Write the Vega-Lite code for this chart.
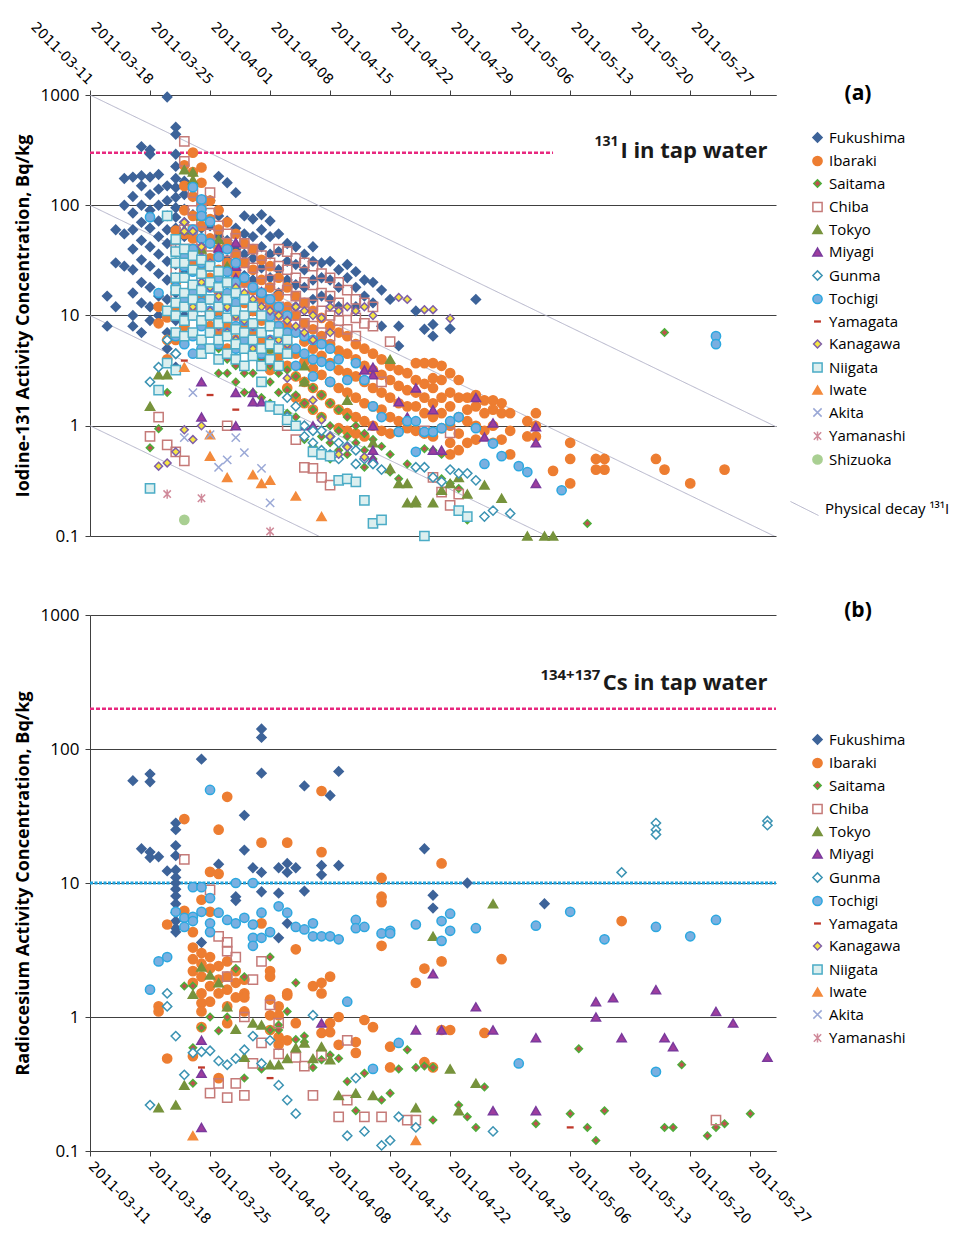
{
"$schema":"https://vega.github.io/schema/vega-lite/v6.json",
"background":"white",
"padding":{"left":14,"top":19,"right":0,"bottom":0},
"bounds":"flush",
"spacing":79,
"config":{"view":{"stroke":null},"font":"Open Sans"},
"datasets":{
"decay":[
{"id":"a","d":"2011-03-11","v":1000,"lab":"Physical decay ¹³¹I"},{"id":"a","d":"2011-05-30","v":0.98,"lab":"Physical decay ¹³¹I"},
{"id":"b","d":"2011-03-11","v":100,"lab":"Physical decay ¹³¹I"},{"id":"b","d":"2011-05-30","v":0.098,"lab":"Physical decay ¹³¹I"},
{"id":"c","d":"2011-03-11","v":10,"lab":"Physical decay ¹³¹I"},{"id":"c","d":"2011-05-06","v":0.079,"lab":"Physical decay ¹³¹I"},
{"id":"e","d":"2011-03-11","v":1,"lab":"Physical decay ¹³¹I"},{"id":"e","d":"2011-04-07","v":0.097,"lab":"Physical decay ¹³¹I"}
],
"top":[
{"p":"Fukushima","d":"2011-03-13","v":15},{"p":"Fukushima","d":"2011-03-13","v":8},
{"p":"Fukushima","d":"2011-03-14","v":60},{"p":"Fukushima","d":"2011-03-14","v":30},{"p":"Fukushima","d":"2011-03-14","v":12},
{"p":"Fukushima","d":"2011-03-15","v":175},{"p":"Fukushima","d":"2011-03-15","v":100},{"p":"Fukushima","d":"2011-03-15","v":55},{"p":"Fukushima","d":"2011-03-15","v":28},
{"p":"Fukushima","d":"2011-03-16","v":180},{"p":"Fukushima","d":"2011-03-16","v":120},{"p":"Fukushima","d":"2011-03-16","v":85},{"p":"Fukushima","d":"2011-03-16","v":60},{"p":"Fukushima","d":"2011-03-16","v":40},{"p":"Fukushima","d":"2011-03-16","v":26},{"p":"Fukushima","d":"2011-03-16","v":16},{"p":"Fukushima","d":"2011-03-16","v":10},{"p":"Fukushima","d":"2011-03-16","v":8},
{"p":"Fukushima","d":"2011-03-17","v":340},{"p":"Fukushima","d":"2011-03-17","v":185},{"p":"Fukushima","d":"2011-03-17","v":150},{"p":"Fukushima","d":"2011-03-17","v":100},{"p":"Fukushima","d":"2011-03-17","v":70},{"p":"Fukushima","d":"2011-03-17","v":48},{"p":"Fukushima","d":"2011-03-17","v":32},{"p":"Fukushima","d":"2011-03-17","v":20},{"p":"Fukushima","d":"2011-03-17","v":13},{"p":"Fukushima","d":"2011-03-17","v":7},
{"p":"Fukushima","d":"2011-03-18","v":318},{"p":"Fukushima","d":"2011-03-18","v":290},{"p":"Fukushima","d":"2011-03-18","v":180},{"p":"Fukushima","d":"2011-03-18","v":125},{"p":"Fukushima","d":"2011-03-18","v":90},{"p":"Fukushima","d":"2011-03-18","v":62},{"p":"Fukushima","d":"2011-03-18","v":42},{"p":"Fukushima","d":"2011-03-18","v":28},{"p":"Fukushima","d":"2011-03-18","v":18},{"p":"Fukushima","d":"2011-03-18","v":12},{"p":"Fukushima","d":"2011-03-18","v":9},
{"p":"Fukushima","d":"2011-03-19","v":190},{"p":"Fukushima","d":"2011-03-19","v":140},{"p":"Fukushima","d":"2011-03-19","v":100},{"p":"Fukushima","d":"2011-03-19","v":72},{"p":"Fukushima","d":"2011-03-19","v":52},{"p":"Fukushima","d":"2011-03-19","v":36},{"p":"Fukushima","d":"2011-03-19","v":24},{"p":"Fukushima","d":"2011-03-19","v":15},{"p":"Fukushima","d":"2011-03-19","v":10},
{"p":"Fukushima","d":"2011-03-20","v":960},{"p":"Fukushima","d":"2011-03-20","v":150},{"p":"Fukushima","d":"2011-03-20","v":110},{"p":"Fukushima","d":"2011-03-20","v":80},{"p":"Fukushima","d":"2011-03-20","v":60},{"p":"Fukushima","d":"2011-03-20","v":45},{"p":"Fukushima","d":"2011-03-20","v":31},{"p":"Fukushima","d":"2011-03-20","v":21},{"p":"Fukushima","d":"2011-03-20","v":14},{"p":"Fukushima","d":"2011-03-20","v":10},{"p":"Fukushima","d":"2011-03-20","v":7},{"p":"Fukushima","d":"2011-03-20","v":5},
{"p":"Fukushima","d":"2011-03-21","v":510},{"p":"Fukushima","d":"2011-03-21","v":440},{"p":"Fukushima","d":"2011-03-21","v":290},{"p":"Fukushima","d":"2011-03-21","v":225},{"p":"Fukushima","d":"2011-03-21","v":175},{"p":"Fukushima","d":"2011-03-21","v":145},{"p":"Fukushima","d":"2011-03-21","v":118},{"p":"Fukushima","d":"2011-03-21","v":95},{"p":"Fukushima","d":"2011-03-21","v":78},{"p":"Fukushima","d":"2011-03-21","v":62},{"p":"Fukushima","d":"2011-03-21","v":48},{"p":"Fukushima","d":"2011-03-21","v":38},{"p":"Fukushima","d":"2011-03-21","v":29},{"p":"Fukushima","d":"2011-03-21","v":22},{"p":"Fukushima","d":"2011-03-21","v":16},{"p":"Fukushima","d":"2011-03-21","v":12},{"p":"Fukushima","d":"2011-03-21","v":9},{"p":"Fukushima","d":"2011-03-21","v":6.5},{"p":"Fukushima","d":"2011-03-21","v":4.5},{"p":"Fukushima","d":"2011-03-21","v":3.4},
{"p":"Fukushima","d":"2011-03-22","v":165},{"p":"Fukushima","d":"2011-03-22","v":125},{"p":"Fukushima","d":"2011-03-22","v":92},{"p":"Fukushima","d":"2011-03-22","v":70},{"p":"Fukushima","d":"2011-03-22","v":52},{"p":"Fukushima","d":"2011-03-22","v":36},{"p":"Fukushima","d":"2011-03-22","v":24},{"p":"Fukushima","d":"2011-03-22","v":15},{"p":"Fukushima","d":"2011-03-22","v":10},
{"p":"Fukushima","d":"2011-03-23","v":120},{"p":"Fukushima","d":"2011-03-23","v":82},{"p":"Fukushima","d":"2011-03-23","v":58},{"p":"Fukushima","d":"2011-03-23","v":40},{"p":"Fukushima","d":"2011-03-23","v":27},{"p":"Fukushima","d":"2011-03-23","v":17},
{"p":"Fukushima","d":"2011-03-24","v":85},{"p":"Fukushima","d":"2011-03-24","v":62},{"p":"Fukushima","d":"2011-03-24","v":42},{"p":"Fukushima","d":"2011-03-24","v":28},{"p":"Fukushima","d":"2011-03-24","v":18},{"p":"Fukushima","d":"2011-03-24","v":12},
{"p":"Fukushima","d":"2011-03-25","v":110},{"p":"Fukushima","d":"2011-03-25","v":65},{"p":"Fukushima","d":"2011-03-25","v":45},{"p":"Fukushima","d":"2011-03-25","v":30},{"p":"Fukushima","d":"2011-03-25","v":20},
{"p":"Fukushima","d":"2011-03-26","v":183},{"p":"Fukushima","d":"2011-03-26","v":80},{"p":"Fukushima","d":"2011-03-26","v":52},{"p":"Fukushima","d":"2011-03-26","v":36},{"p":"Fukushima","d":"2011-03-26","v":22},
{"p":"Fukushima","d":"2011-03-27","v":160},{"p":"Fukushima","d":"2011-03-27","v":72},{"p":"Fukushima","d":"2011-03-27","v":48},{"p":"Fukushima","d":"2011-03-27","v":32},{"p":"Fukushima","d":"2011-03-27","v":21},{"p":"Fukushima","d":"2011-03-27","v":13},
{"p":"Fukushima","d":"2011-03-28","v":130},{"p":"Fukushima","d":"2011-03-28","v":62},{"p":"Fukushima","d":"2011-03-28","v":40},{"p":"Fukushima","d":"2011-03-28","v":26},{"p":"Fukushima","d":"2011-03-28","v":16},
{"p":"Fukushima","d":"2011-03-29","v":80},{"p":"Fukushima","d":"2011-03-29","v":55},{"p":"Fukushima","d":"2011-03-29","v":36},{"p":"Fukushima","d":"2011-03-29","v":23},
{"p":"Fukushima","d":"2011-03-30","v":75},{"p":"Fukushima","d":"2011-03-30","v":52},{"p":"Fukushima","d":"2011-03-30","v":33},{"p":"Fukushima","d":"2011-03-30","v":21},{"p":"Fukushima","d":"2011-03-30","v":11},
{"p":"Fukushima","d":"2011-03-31","v":82},{"p":"Fukushima","d":"2011-03-31","v":60},{"p":"Fukushima","d":"2011-03-31","v":42},{"p":"Fukushima","d":"2011-03-31","v":27},{"p":"Fukushima","d":"2011-03-31","v":16},
{"p":"Fukushima","d":"2011-04-01","v":72},{"p":"Fukushima","d":"2011-04-01","v":52},{"p":"Fukushima","d":"2011-04-01","v":36},{"p":"Fukushima","d":"2011-04-01","v":22},{"p":"Fukushima","d":"2011-04-01","v":13},
{"p":"Fukushima","d":"2011-04-02","v":55},{"p":"Fukushima","d":"2011-04-02","v":38},{"p":"Fukushima","d":"2011-04-02","v":26},{"p":"Fukushima","d":"2011-04-02","v":16},
{"p":"Fukushima","d":"2011-04-03","v":45},{"p":"Fukushima","d":"2011-04-03","v":31},{"p":"Fukushima","d":"2011-04-03","v":21},
{"p":"Fukushima","d":"2011-04-04","v":42},{"p":"Fukushima","d":"2011-04-04","v":29},{"p":"Fukushima","d":"2011-04-04","v":19},{"p":"Fukushima","d":"2011-04-04","v":12},
{"p":"Fukushima","d":"2011-04-05","v":36},{"p":"Fukushima","d":"2011-04-05","v":26},{"p":"Fukushima","d":"2011-04-05","v":18},
{"p":"Fukushima","d":"2011-04-06","v":42},{"p":"Fukushima","d":"2011-04-06","v":31},{"p":"Fukushima","d":"2011-04-06","v":21},{"p":"Fukushima","d":"2011-04-06","v":14},
{"p":"Fukushima","d":"2011-04-07","v":30},{"p":"Fukushima","d":"2011-04-07","v":22},{"p":"Fukushima","d":"2011-04-07","v":15},
{"p":"Fukushima","d":"2011-04-08","v":31},{"p":"Fukushima","d":"2011-04-08","v":21},{"p":"Fukushima","d":"2011-04-08","v":14},
{"p":"Fukushima","d":"2011-04-09","v":26},{"p":"Fukushima","d":"2011-04-09","v":18},{"p":"Fukushima","d":"2011-04-09","v":12},
{"p":"Fukushima","d":"2011-04-10","v":29},{"p":"Fukushima","d":"2011-04-10","v":22},
{"p":"Fukushima","d":"2011-04-11","v":25},{"p":"Fukushima","d":"2011-04-11","v":18},{"p":"Fukushima","d":"2011-04-11","v":12},
{"p":"Fukushima","d":"2011-04-12","v":21},{"p":"Fukushima","d":"2011-04-12","v":15},
{"p":"Fukushima","d":"2011-04-13","v":20},{"p":"Fukushima","d":"2011-04-13","v":13},
{"p":"Fukushima","d":"2011-04-14","v":17},{"p":"Fukushima","d":"2011-04-14","v":8},
{"p":"Fukushima","d":"2011-04-15","v":14},{"p":"Fukushima","d":"2011-04-16","v":8},{"p":"Fukushima","d":"2011-04-16","v":5.3},{"p":"Fukushima","d":"2011-04-18","v":11},{"p":"Fukushima","d":"2011-04-19","v":7.5},{"p":"Fukushima","d":"2011-04-20","v":8.3},{"p":"Fukushima","d":"2011-04-20","v":6.5},{"p":"Fukushima","d":"2011-04-22","v":7.6},{"p":"Fukushima","d":"2011-04-25","v":14},

{"p":"Ibaraki","d":"2011-03-19","v":12},{"p":"Ibaraki","d":"2011-03-19","v":8.5},
{"p":"Ibaraki","d":"2011-03-20","v":9.6},{"p":"Ibaraki","d":"2011-03-20","v":6},{"p":"Ibaraki","d":"2011-03-20","v":4},
{"p":"Ibaraki","d":"2011-03-21","v":59},{"p":"Ibaraki","d":"2011-03-21","v":30},{"p":"Ibaraki","d":"2011-03-21","v":20},{"p":"Ibaraki","d":"2011-03-21","v":12},{"p":"Ibaraki","d":"2011-03-21","v":6},
{"p":"Ibaraki","d":"2011-03-22","v":230},{"p":"Ibaraki","d":"2011-03-22","v":150},{"p":"Ibaraki","d":"2011-03-22","v":90},{"p":"Ibaraki","d":"2011-03-22","v":55},{"p":"Ibaraki","d":"2011-03-22","v":35},{"p":"Ibaraki","d":"2011-03-22","v":22},{"p":"Ibaraki","d":"2011-03-22","v":14},{"p":"Ibaraki","d":"2011-03-22","v":8},
{"p":"Ibaraki","d":"2011-03-23","v":300},{"p":"Ibaraki","d":"2011-03-23","v":200},{"p":"Ibaraki","d":"2011-03-23","v":120},{"p":"Ibaraki","d":"2011-03-23","v":80},{"p":"Ibaraki","d":"2011-03-23","v":50},{"p":"Ibaraki","d":"2011-03-23","v":30},{"p":"Ibaraki","d":"2011-03-23","v":18},{"p":"Ibaraki","d":"2011-03-23","v":11},
{"p":"Ibaraki","d":"2011-03-24","v":220},{"p":"Ibaraki","d":"2011-03-24","v":160},{"p":"Ibaraki","d":"2011-03-24","v":100},{"p":"Ibaraki","d":"2011-03-24","v":65},{"p":"Ibaraki","d":"2011-03-24","v":40},{"p":"Ibaraki","d":"2011-03-24","v":25},{"p":"Ibaraki","d":"2011-03-24","v":15},{"p":"Ibaraki","d":"2011-03-24","v":9},
{"p":"Ibaraki","d":"2011-03-25","v":110},{"p":"Ibaraki","d":"2011-03-25","v":75},{"p":"Ibaraki","d":"2011-03-25","v":50},{"p":"Ibaraki","d":"2011-03-25","v":33},{"p":"Ibaraki","d":"2011-03-25","v":22},{"p":"Ibaraki","d":"2011-03-25","v":14},{"p":"Ibaraki","d":"2011-03-25","v":8},
{"p":"Ibaraki","d":"2011-03-26","v":90},{"p":"Ibaraki","d":"2011-03-26","v":60},{"p":"Ibaraki","d":"2011-03-26","v":40},{"p":"Ibaraki","d":"2011-03-26","v":26},{"p":"Ibaraki","d":"2011-03-26","v":17},{"p":"Ibaraki","d":"2011-03-26","v":11},{"p":"Ibaraki","d":"2011-03-26","v":7},
{"p":"Ibaraki","d":"2011-03-27","v":70},{"p":"Ibaraki","d":"2011-03-27","v":45},{"p":"Ibaraki","d":"2011-03-27","v":30},{"p":"Ibaraki","d":"2011-03-27","v":20},{"p":"Ibaraki","d":"2011-03-27","v":13},{"p":"Ibaraki","d":"2011-03-27","v":8},{"p":"Ibaraki","d":"2011-03-27","v":5},
{"p":"Ibaraki","d":"2011-03-28","v":55},{"p":"Ibaraki","d":"2011-03-28","v":36},{"p":"Ibaraki","d":"2011-03-28","v":24},{"p":"Ibaraki","d":"2011-03-28","v":16},{"p":"Ibaraki","d":"2011-03-28","v":10},{"p":"Ibaraki","d":"2011-03-28","v":6},
{"p":"Ibaraki","d":"2011-03-29","v":45},{"p":"Ibaraki","d":"2011-03-29","v":30},{"p":"Ibaraki","d":"2011-03-29","v":20},{"p":"Ibaraki","d":"2011-03-29","v":13},{"p":"Ibaraki","d":"2011-03-29","v":8},{"p":"Ibaraki","d":"2011-03-29","v":5},
{"p":"Ibaraki","d":"2011-03-30","v":40},{"p":"Ibaraki","d":"2011-03-30","v":26},{"p":"Ibaraki","d":"2011-03-30","v":17},{"p":"Ibaraki","d":"2011-03-30","v":11},{"p":"Ibaraki","d":"2011-03-30","v":7},{"p":"Ibaraki","d":"2011-03-30","v":4.5},
{"p":"Ibaraki","d":"2011-03-31","v":32},{"p":"Ibaraki","d":"2011-03-31","v":21},{"p":"Ibaraki","d":"2011-03-31","v":14},{"p":"Ibaraki","d":"2011-03-31","v":9},{"p":"Ibaraki","d":"2011-03-31","v":6},{"p":"Ibaraki","d":"2011-03-31","v":3.8},
{"p":"Ibaraki","d":"2011-04-01","v":28},{"p":"Ibaraki","d":"2011-04-01","v":18},{"p":"Ibaraki","d":"2011-04-01","v":12},{"p":"Ibaraki","d":"2011-04-01","v":8},{"p":"Ibaraki","d":"2011-04-01","v":5},{"p":"Ibaraki","d":"2011-04-01","v":3.2},
{"p":"Ibaraki","d":"2011-04-02","v":22},{"p":"Ibaraki","d":"2011-04-02","v":15},{"p":"Ibaraki","d":"2011-04-02","v":10},{"p":"Ibaraki","d":"2011-04-02","v":6.5},{"p":"Ibaraki","d":"2011-04-02","v":4.2},
{"p":"Ibaraki","d":"2011-04-03","v":18},{"p":"Ibaraki","d":"2011-04-03","v":12},{"p":"Ibaraki","d":"2011-04-03","v":8},{"p":"Ibaraki","d":"2011-04-03","v":5.5},{"p":"Ibaraki","d":"2011-04-03","v":3.5},{"p":"Ibaraki","d":"2011-04-03","v":2.2},
{"p":"Ibaraki","d":"2011-04-04","v":15},{"p":"Ibaraki","d":"2011-04-04","v":10},{"p":"Ibaraki","d":"2011-04-04","v":7},{"p":"Ibaraki","d":"2011-04-04","v":4.5},{"p":"Ibaraki","d":"2011-04-04","v":2.8},{"p":"Ibaraki","d":"2011-04-04","v":1.8},
{"p":"Ibaraki","d":"2011-04-05","v":13},{"p":"Ibaraki","d":"2011-04-05","v":8.5},{"p":"Ibaraki","d":"2011-04-05","v":5.8},{"p":"Ibaraki","d":"2011-04-05","v":3.8},{"p":"Ibaraki","d":"2011-04-05","v":2.5},{"p":"Ibaraki","d":"2011-04-05","v":1.6},
{"p":"Ibaraki","d":"2011-04-06","v":11},{"p":"Ibaraki","d":"2011-04-06","v":7.5},{"p":"Ibaraki","d":"2011-04-06","v":5},{"p":"Ibaraki","d":"2011-04-06","v":3.3},{"p":"Ibaraki","d":"2011-04-06","v":2.2},{"p":"Ibaraki","d":"2011-04-06","v":1.4},
{"p":"Ibaraki","d":"2011-04-07","v":9.5},{"p":"Ibaraki","d":"2011-04-07","v":6.5},{"p":"Ibaraki","d":"2011-04-07","v":4.3},{"p":"Ibaraki","d":"2011-04-07","v":2.9},{"p":"Ibaraki","d":"2011-04-07","v":1.9},{"p":"Ibaraki","d":"2011-04-07","v":1.2},
{"p":"Ibaraki","d":"2011-04-08","v":8},{"p":"Ibaraki","d":"2011-04-08","v":5.5},{"p":"Ibaraki","d":"2011-04-08","v":3.7},{"p":"Ibaraki","d":"2011-04-08","v":2.5},{"p":"Ibaraki","d":"2011-04-08","v":1.6},
{"p":"Ibaraki","d":"2011-04-09","v":7},{"p":"Ibaraki","d":"2011-04-09","v":4.8},{"p":"Ibaraki","d":"2011-04-09","v":3.2},{"p":"Ibaraki","d":"2011-04-09","v":2.2},{"p":"Ibaraki","d":"2011-04-09","v":1.4},{"p":"Ibaraki","d":"2011-04-09","v":0.95},
{"p":"Ibaraki","d":"2011-04-10","v":6.5},{"p":"Ibaraki","d":"2011-04-10","v":4.5},{"p":"Ibaraki","d":"2011-04-10","v":3},{"p":"Ibaraki","d":"2011-04-10","v":2},{"p":"Ibaraki","d":"2011-04-10","v":1.3},{"p":"Ibaraki","d":"2011-04-10","v":0.9},
{"p":"Ibaraki","d":"2011-04-11","v":5.5},{"p":"Ibaraki","d":"2011-04-11","v":4},{"p":"Ibaraki","d":"2011-04-11","v":2.8},{"p":"Ibaraki","d":"2011-04-11","v":1.8},{"p":"Ibaraki","d":"2011-04-11","v":1.2},{"p":"Ibaraki","d":"2011-04-11","v":0.85},
{"p":"Ibaraki","d":"2011-04-12","v":5},{"p":"Ibaraki","d":"2011-04-12","v":3.5},{"p":"Ibaraki","d":"2011-04-12","v":2.5},{"p":"Ibaraki","d":"2011-04-12","v":1.6},{"p":"Ibaraki","d":"2011-04-12","v":1.1},{"p":"Ibaraki","d":"2011-04-12","v":0.8},
{"p":"Ibaraki","d":"2011-04-13","v":4.5},{"p":"Ibaraki","d":"2011-04-13","v":3.2},{"p":"Ibaraki","d":"2011-04-13","v":2.2},{"p":"Ibaraki","d":"2011-04-13","v":1.5},{"p":"Ibaraki","d":"2011-04-13","v":1.0},
{"p":"Ibaraki","d":"2011-04-14","v":4},{"p":"Ibaraki","d":"2011-04-14","v":2.9},{"p":"Ibaraki","d":"2011-04-14","v":2},{"p":"Ibaraki","d":"2011-04-14","v":1.4},{"p":"Ibaraki","d":"2011-04-14","v":0.9},
{"p":"Ibaraki","d":"2011-04-15","v":3.5},{"p":"Ibaraki","d":"2011-04-15","v":2.6},{"p":"Ibaraki","d":"2011-04-15","v":1.8},{"p":"Ibaraki","d":"2011-04-15","v":1.2},{"p":"Ibaraki","d":"2011-04-15","v":0.85},
{"p":"Ibaraki","d":"2011-04-16","v":3.2},{"p":"Ibaraki","d":"2011-04-16","v":2.3},{"p":"Ibaraki","d":"2011-04-16","v":1.6},{"p":"Ibaraki","d":"2011-04-16","v":1.1},
{"p":"Ibaraki","d":"2011-04-17","v":3.0},{"p":"Ibaraki","d":"2011-04-17","v":2.1},{"p":"Ibaraki","d":"2011-04-17","v":1.5},{"p":"Ibaraki","d":"2011-04-17","v":0.95},
{"p":"Ibaraki","d":"2011-04-18","v":3.7},{"p":"Ibaraki","d":"2011-04-18","v":2.6},{"p":"Ibaraki","d":"2011-04-18","v":2.0},{"p":"Ibaraki","d":"2011-04-18","v":1.5},{"p":"Ibaraki","d":"2011-04-18","v":0.9},
{"p":"Ibaraki","d":"2011-04-19","v":3.7},{"p":"Ibaraki","d":"2011-04-19","v":2.4},{"p":"Ibaraki","d":"2011-04-19","v":1.8},{"p":"Ibaraki","d":"2011-04-19","v":1.3},{"p":"Ibaraki","d":"2011-04-19","v":0.85},
{"p":"Ibaraki","d":"2011-04-20","v":3.7},{"p":"Ibaraki","d":"2011-04-20","v":2.7},{"p":"Ibaraki","d":"2011-04-20","v":2.2},{"p":"Ibaraki","d":"2011-04-20","v":1.6},{"p":"Ibaraki","d":"2011-04-20","v":1.2},{"p":"Ibaraki","d":"2011-04-20","v":0.8},
{"p":"Ibaraki","d":"2011-04-21","v":3.5},{"p":"Ibaraki","d":"2011-04-21","v":2.6},{"p":"Ibaraki","d":"2011-04-21","v":1.8},{"p":"Ibaraki","d":"2011-04-21","v":1.3},{"p":"Ibaraki","d":"2011-04-21","v":0.95},
{"p":"Ibaraki","d":"2011-04-22","v":3.0},{"p":"Ibaraki","d":"2011-04-22","v":2.0},{"p":"Ibaraki","d":"2011-04-22","v":1.5},{"p":"Ibaraki","d":"2011-04-22","v":1.0},{"p":"Ibaraki","d":"2011-04-22","v":0.7},{"p":"Ibaraki","d":"2011-04-22","v":0.55},
{"p":"Ibaraki","d":"2011-04-23","v":2.6},{"p":"Ibaraki","d":"2011-04-23","v":1.8},{"p":"Ibaraki","d":"2011-04-23","v":1.2},{"p":"Ibaraki","d":"2011-04-23","v":0.85},{"p":"Ibaraki","d":"2011-04-23","v":0.6},
{"p":"Ibaraki","d":"2011-04-24","v":1.8},{"p":"Ibaraki","d":"2011-04-24","v":1.4},{"p":"Ibaraki","d":"2011-04-24","v":1.1},{"p":"Ibaraki","d":"2011-04-24","v":0.7},
{"p":"Ibaraki","d":"2011-04-25","v":1.9},{"p":"Ibaraki","d":"2011-04-25","v":1.5},{"p":"Ibaraki","d":"2011-04-25","v":1.0},{"p":"Ibaraki","d":"2011-04-25","v":0.75},
{"p":"Ibaraki","d":"2011-04-26","v":1.7},{"p":"Ibaraki","d":"2011-04-26","v":1.3},{"p":"Ibaraki","d":"2011-04-26","v":0.9},
{"p":"Ibaraki","d":"2011-04-27","v":1.7},{"p":"Ibaraki","d":"2011-04-27","v":1.4},{"p":"Ibaraki","d":"2011-04-27","v":1.0},{"p":"Ibaraki","d":"2011-04-27","v":0.7},
{"p":"Ibaraki","d":"2011-04-28","v":1.6},{"p":"Ibaraki","d":"2011-04-28","v":1.3},{"p":"Ibaraki","d":"2011-04-28","v":0.75},
{"p":"Ibaraki","d":"2011-04-29","v":1.3},{"p":"Ibaraki","d":"2011-04-29","v":0.9},{"p":"Ibaraki","d":"2011-04-29","v":0.55},
{"p":"Ibaraki","d":"2011-05-01","v":1.1},{"p":"Ibaraki","d":"2011-05-01","v":0.8},
{"p":"Ibaraki","d":"2011-05-02","v":1.3},{"p":"Ibaraki","d":"2011-05-02","v":1.0},{"p":"Ibaraki","d":"2011-05-02","v":0.8},
{"p":"Ibaraki","d":"2011-05-04","v":0.39},{"p":"Ibaraki","d":"2011-05-06","v":0.7},{"p":"Ibaraki","d":"2011-05-06","v":0.5},{"p":"Ibaraki","d":"2011-05-06","v":0.3},
{"p":"Ibaraki","d":"2011-05-09","v":0.5},{"p":"Ibaraki","d":"2011-05-09","v":0.4},{"p":"Ibaraki","d":"2011-05-10","v":0.5},{"p":"Ibaraki","d":"2011-05-10","v":0.4},
{"p":"Ibaraki","d":"2011-05-16","v":0.5},{"p":"Ibaraki","d":"2011-05-17","v":0.4},{"p":"Ibaraki","d":"2011-05-20","v":0.3},{"p":"Ibaraki","d":"2011-05-24","v":0.4},

{"p":"Saitama","d":"2011-03-18","v":0.63},{"p":"Saitama","d":"2011-03-19","v":0.94},{"p":"Saitama","d":"2011-03-20","v":2.0},
{"p":"Saitama","d":"2011-03-26","v":5},{"p":"Saitama","d":"2011-03-26","v":3},{"p":"Saitama","d":"2011-03-27","v":4},{"p":"Saitama","d":"2011-03-27","v":3},
{"p":"Saitama","d":"2011-03-28","v":6},{"p":"Saitama","d":"2011-03-28","v":3.5},{"p":"Saitama","d":"2011-03-28","v":2.5},
{"p":"Saitama","d":"2011-03-29","v":5},{"p":"Saitama","d":"2011-03-29","v":3},{"p":"Saitama","d":"2011-03-29","v":2},
{"p":"Saitama","d":"2011-03-30","v":4.5},{"p":"Saitama","d":"2011-03-30","v":3},{"p":"Saitama","d":"2011-03-30","v":2},
{"p":"Saitama","d":"2011-03-31","v":4},{"p":"Saitama","d":"2011-03-31","v":2.5},{"p":"Saitama","d":"2011-03-31","v":1.8},
{"p":"Saitama","d":"2011-04-01","v":3.5},{"p":"Saitama","d":"2011-04-01","v":2.5},{"p":"Saitama","d":"2011-04-01","v":1.6},
{"p":"Saitama","d":"2011-04-02","v":3},{"p":"Saitama","d":"2011-04-02","v":2},{"p":"Saitama","d":"2011-04-02","v":1.4},
{"p":"Saitama","d":"2011-04-03","v":3.2},{"p":"Saitama","d":"2011-04-03","v":2.1},{"p":"Saitama","d":"2011-04-03","v":1.3},
{"p":"Saitama","d":"2011-04-04","v":2.8},{"p":"Saitama","d":"2011-04-04","v":1.9},{"p":"Saitama","d":"2011-04-04","v":1.2},
{"p":"Saitama","d":"2011-04-05","v":2.5},{"p":"Saitama","d":"2011-04-05","v":1.6},{"p":"Saitama","d":"2011-04-05","v":1.0},{"p":"Saitama","d":"2011-04-05","v":0.75},
{"p":"Saitama","d":"2011-04-06","v":2.2},{"p":"Saitama","d":"2011-04-06","v":1.4},{"p":"Saitama","d":"2011-04-06","v":0.9},{"p":"Saitama","d":"2011-04-06","v":0.65},
{"p":"Saitama","d":"2011-04-07","v":1.9},{"p":"Saitama","d":"2011-04-07","v":1.2},{"p":"Saitama","d":"2011-04-07","v":0.8},{"p":"Saitama","d":"2011-04-07","v":0.58},
{"p":"Saitama","d":"2011-04-08","v":1.6},{"p":"Saitama","d":"2011-04-08","v":1.0},{"p":"Saitama","d":"2011-04-08","v":0.7},{"p":"Saitama","d":"2011-04-08","v":0.5},
{"p":"Saitama","d":"2011-04-09","v":1.4},{"p":"Saitama","d":"2011-04-09","v":0.9},{"p":"Saitama","d":"2011-04-09","v":0.6},
{"p":"Saitama","d":"2011-04-10","v":1.2},{"p":"Saitama","d":"2011-04-10","v":0.8},{"p":"Saitama","d":"2011-04-10","v":0.55},
{"p":"Saitama","d":"2011-04-11","v":1.0},{"p":"Saitama","d":"2011-04-11","v":0.7},{"p":"Saitama","d":"2011-04-11","v":0.45},
{"p":"Saitama","d":"2011-04-12","v":0.85},{"p":"Saitama","d":"2011-04-12","v":0.6},{"p":"Saitama","d":"2011-04-12","v":0.42},
{"p":"Saitama","d":"2011-04-13","v":0.75},{"p":"Saitama","d":"2011-04-13","v":0.5},{"p":"Saitama","d":"2011-04-14","v":0.65},{"p":"Saitama","d":"2011-04-14","v":0.4},
{"p":"Saitama","d":"2011-04-15","v":0.55},{"p":"Saitama","d":"2011-04-15","v":0.38},{"p":"Saitama","d":"2011-04-16","v":0.33},{"p":"Saitama","d":"2011-04-17","v":0.45},
{"p":"Saitama","d":"2011-04-19","v":0.62},{"p":"Saitama","d":"2011-04-20","v":0.6},{"p":"Saitama","d":"2011-04-21","v":0.55},{"p":"Saitama","d":"2011-04-21","v":0.33},
{"p":"Saitama","d":"2011-04-22","v":0.3},{"p":"Saitama","d":"2011-04-23","v":0.27},{"p":"Saitama","d":"2011-04-24","v":0.14},{"p":"Saitama","d":"2011-05-08","v":0.13},{"p":"Saitama","d":"2011-05-17","v":7},

{"p":"Chiba","d":"2011-03-18","v":0.8},{"p":"Chiba","d":"2011-03-19","v":1.2},{"p":"Chiba","d":"2011-03-20","v":0.67},
{"p":"Chiba","d":"2011-03-21","v":40},{"p":"Chiba","d":"2011-03-21","v":25},{"p":"Chiba","d":"2011-03-21","v":15},{"p":"Chiba","d":"2011-03-21","v":0.58},
{"p":"Chiba","d":"2011-03-22","v":380},{"p":"Chiba","d":"2011-03-22","v":250},{"p":"Chiba","d":"2011-03-22","v":60},{"p":"Chiba","d":"2011-03-22","v":40},{"p":"Chiba","d":"2011-03-22","v":25},{"p":"Chiba","d":"2011-03-22","v":15},{"p":"Chiba","d":"2011-03-22","v":9},{"p":"Chiba","d":"2011-03-22","v":0.48},
{"p":"Chiba","d":"2011-03-23","v":130},{"p":"Chiba","d":"2011-03-23","v":90},{"p":"Chiba","d":"2011-03-23","v":60},{"p":"Chiba","d":"2011-03-23","v":40},{"p":"Chiba","d":"2011-03-23","v":28},{"p":"Chiba","d":"2011-03-23","v":18},{"p":"Chiba","d":"2011-03-23","v":12},
{"p":"Chiba","d":"2011-03-24","v":110},{"p":"Chiba","d":"2011-03-24","v":70},{"p":"Chiba","d":"2011-03-24","v":45},{"p":"Chiba","d":"2011-03-24","v":30},{"p":"Chiba","d":"2011-03-24","v":20},{"p":"Chiba","d":"2011-03-24","v":13},
{"p":"Chiba","d":"2011-03-25","v":130},{"p":"Chiba","d":"2011-03-25","v":85},{"p":"Chiba","d":"2011-03-25","v":55},{"p":"Chiba","d":"2011-03-25","v":35},{"p":"Chiba","d":"2011-03-25","v":23},{"p":"Chiba","d":"2011-03-25","v":15},{"p":"Chiba","d":"2011-03-25","v":10},
{"p":"Chiba","d":"2011-03-26","v":65},{"p":"Chiba","d":"2011-03-26","v":45},{"p":"Chiba","d":"2011-03-26","v":30},{"p":"Chiba","d":"2011-03-26","v":20},{"p":"Chiba","d":"2011-03-26","v":13},{"p":"Chiba","d":"2011-03-26","v":8},
{"p":"Chiba","d":"2011-03-27","v":55},{"p":"Chiba","d":"2011-03-27","v":38},{"p":"Chiba","d":"2011-03-27","v":26},{"p":"Chiba","d":"2011-03-27","v":17},{"p":"Chiba","d":"2011-03-27","v":11},{"p":"Chiba","d":"2011-03-27","v":1.0},
{"p":"Chiba","d":"2011-03-28","v":50},{"p":"Chiba","d":"2011-03-28","v":35},{"p":"Chiba","d":"2011-03-28","v":24},{"p":"Chiba","d":"2011-03-28","v":16},{"p":"Chiba","d":"2011-03-28","v":10},
{"p":"Chiba","d":"2011-03-29","v":45},{"p":"Chiba","d":"2011-03-29","v":30},{"p":"Chiba","d":"2011-03-29","v":20},{"p":"Chiba","d":"2011-03-29","v":14},{"p":"Chiba","d":"2011-03-29","v":9},
{"p":"Chiba","d":"2011-03-30","v":40},{"p":"Chiba","d":"2011-03-30","v":27},{"p":"Chiba","d":"2011-03-30","v":18},{"p":"Chiba","d":"2011-03-30","v":12},{"p":"Chiba","d":"2011-03-30","v":8},
{"p":"Chiba","d":"2011-03-31","v":35},{"p":"Chiba","d":"2011-03-31","v":24},{"p":"Chiba","d":"2011-03-31","v":16},{"p":"Chiba","d":"2011-03-31","v":11},{"p":"Chiba","d":"2011-03-31","v":7},
{"p":"Chiba","d":"2011-04-01","v":30},{"p":"Chiba","d":"2011-04-01","v":21},{"p":"Chiba","d":"2011-04-01","v":14},{"p":"Chiba","d":"2011-04-01","v":9.5},
{"p":"Chiba","d":"2011-04-02","v":40},{"p":"Chiba","d":"2011-04-02","v":28},{"p":"Chiba","d":"2011-04-02","v":19},{"p":"Chiba","d":"2011-04-02","v":12},{"p":"Chiba","d":"2011-04-02","v":8},
{"p":"Chiba","d":"2011-04-03","v":38},{"p":"Chiba","d":"2011-04-03","v":26},{"p":"Chiba","d":"2011-04-03","v":17},{"p":"Chiba","d":"2011-04-03","v":11},{"p":"Chiba","d":"2011-04-03","v":7},{"p":"Chiba","d":"2011-04-03","v":1.0},
{"p":"Chiba","d":"2011-04-04","v":33},{"p":"Chiba","d":"2011-04-04","v":22},{"p":"Chiba","d":"2011-04-04","v":15},{"p":"Chiba","d":"2011-04-04","v":10},{"p":"Chiba","d":"2011-04-04","v":0.75},
{"p":"Chiba","d":"2011-04-05","v":30},{"p":"Chiba","d":"2011-04-05","v":20},{"p":"Chiba","d":"2011-04-05","v":13},{"p":"Chiba","d":"2011-04-05","v":8.5},{"p":"Chiba","d":"2011-04-05","v":0.42},
{"p":"Chiba","d":"2011-04-06","v":28},{"p":"Chiba","d":"2011-04-06","v":19},{"p":"Chiba","d":"2011-04-06","v":12.5},{"p":"Chiba","d":"2011-04-06","v":8},{"p":"Chiba","d":"2011-04-06","v":0.41},
{"p":"Chiba","d":"2011-04-07","v":24},{"p":"Chiba","d":"2011-04-07","v":16},{"p":"Chiba","d":"2011-04-07","v":11},{"p":"Chiba","d":"2011-04-07","v":7},{"p":"Chiba","d":"2011-04-07","v":0.34},
{"p":"Chiba","d":"2011-04-08","v":22},{"p":"Chiba","d":"2011-04-08","v":15},{"p":"Chiba","d":"2011-04-08","v":10},{"p":"Chiba","d":"2011-04-08","v":6.5},{"p":"Chiba","d":"2011-04-08","v":0.29},
{"p":"Chiba","d":"2011-04-09","v":20},{"p":"Chiba","d":"2011-04-09","v":13},{"p":"Chiba","d":"2011-04-09","v":9},
{"p":"Chiba","d":"2011-04-10","v":17},{"p":"Chiba","d":"2011-04-10","v":11},{"p":"Chiba","d":"2011-04-10","v":7.5},
{"p":"Chiba","d":"2011-04-11","v":14},{"p":"Chiba","d":"2011-04-11","v":9.5},{"p":"Chiba","d":"2011-04-11","v":6.5},
{"p":"Chiba","d":"2011-04-12","v":13},{"p":"Chiba","d":"2011-04-12","v":8.5},{"p":"Chiba","d":"2011-04-13","v":12},{"p":"Chiba","d":"2011-04-13","v":8},
{"p":"Chiba","d":"2011-04-14","v":2.5},{"p":"Chiba","d":"2011-04-15","v":5.8},{"p":"Chiba","d":"2011-04-19","v":0.9},{"p":"Chiba","d":"2011-04-20","v":0.34},{"p":"Chiba","d":"2011-04-21","v":0.25},{"p":"Chiba","d":"2011-04-22","v":0.86},{"p":"Chiba","d":"2011-04-22","v":0.19},{"p":"Chiba","d":"2011-04-23","v":0.24},

{"p":"Tokyo","d":"2011-03-18","v":1.5},{"p":"Tokyo","d":"2011-03-19","v":2.9},{"p":"Tokyo","d":"2011-03-20","v":2.9},
{"p":"Tokyo","d":"2011-03-22","v":210},{"p":"Tokyo","d":"2011-03-22","v":60},{"p":"Tokyo","d":"2011-03-23","v":200},{"p":"Tokyo","d":"2011-03-23","v":170},
{"p":"Tokyo","d":"2011-03-24","v":80},{"p":"Tokyo","d":"2011-03-24","v":40},{"p":"Tokyo","d":"2011-03-26","v":49},{"p":"Tokyo","d":"2011-03-27","v":28},{"p":"Tokyo","d":"2011-03-27","v":20},
{"p":"Tokyo","d":"2011-03-28","v":12},{"p":"Tokyo","d":"2011-03-28","v":8},{"p":"Tokyo","d":"2011-04-01","v":5},{"p":"Tokyo","d":"2011-04-05","v":3.5},{"p":"Tokyo","d":"2011-04-05","v":2.5},
{"p":"Tokyo","d":"2011-04-10","v":1.7},{"p":"Tokyo","d":"2011-04-13","v":0.7},{"p":"Tokyo","d":"2011-04-15","v":0.41},{"p":"Tokyo","d":"2011-04-15","v":4},{"p":"Tokyo","d":"2011-04-16","v":0.3},
{"p":"Tokyo","d":"2011-04-17","v":0.3},{"p":"Tokyo","d":"2011-04-17","v":0.2},{"p":"Tokyo","d":"2011-04-18","v":0.2},{"p":"Tokyo","d":"2011-04-18","v":0.21},{"p":"Tokyo","d":"2011-04-20","v":0.2},
{"p":"Tokyo","d":"2011-04-21","v":0.26},{"p":"Tokyo","d":"2011-04-22","v":0.3},{"p":"Tokyo","d":"2011-04-23","v":0.34},{"p":"Tokyo","d":"2011-04-24","v":0.24},{"p":"Tokyo","d":"2011-04-26","v":0.29},
{"p":"Tokyo","d":"2011-04-28","v":0.22},{"p":"Tokyo","d":"2011-05-01","v":0.1},{"p":"Tokyo","d":"2011-05-03","v":0.1},{"p":"Tokyo","d":"2011-05-04","v":0.1},

{"p":"Miyagi","d":"2011-03-24","v":20},{"p":"Miyagi","d":"2011-03-24","v":2.5},{"p":"Miyagi","d":"2011-03-24","v":1.2},{"p":"Miyagi","d":"2011-03-26","v":41},
{"p":"Miyagi","d":"2011-03-28","v":46},{"p":"Miyagi","d":"2011-03-28","v":28},{"p":"Miyagi","d":"2011-03-28","v":22},{"p":"Miyagi","d":"2011-03-28","v":2.0},{"p":"Miyagi","d":"2011-03-28","v":1.0},
{"p":"Miyagi","d":"2011-03-30","v":2.0},{"p":"Miyagi","d":"2011-03-30","v":1.65},{"p":"Miyagi","d":"2011-03-31","v":16.5},{"p":"Miyagi","d":"2011-03-31","v":1.65},
{"p":"Miyagi","d":"2011-04-05","v":1.0},{"p":"Miyagi","d":"2011-04-06","v":1.0},{"p":"Miyagi","d":"2011-04-12","v":3.2},
{"p":"Miyagi","d":"2011-04-13","v":3.4},{"p":"Miyagi","d":"2011-04-13","v":2.9},{"p":"Miyagi","d":"2011-04-13","v":1.0},{"p":"Miyagi","d":"2011-04-13","v":0.6},{"p":"Miyagi","d":"2011-04-13","v":0.5},
{"p":"Miyagi","d":"2011-04-16","v":1.65},{"p":"Miyagi","d":"2011-04-17","v":1.2},{"p":"Miyagi","d":"2011-04-18","v":2.2},{"p":"Miyagi","d":"2011-04-20","v":1.4},{"p":"Miyagi","d":"2011-04-20","v":0.6},
{"p":"Miyagi","d":"2011-04-21","v":0.6},{"p":"Miyagi","d":"2011-04-25","v":1.8},{"p":"Miyagi","d":"2011-04-26","v":0.79},{"p":"Miyagi","d":"2011-04-27","v":1.06},
{"p":"Miyagi","d":"2011-05-02","v":0.98},{"p":"Miyagi","d":"2011-05-02","v":0.7},{"p":"Miyagi","d":"2011-05-02","v":0.3},

{"p":"Gunma","d":"2011-03-18","v":2.5},{"p":"Gunma","d":"2011-03-19","v":3.4},{"p":"Gunma","d":"2011-03-20","v":6},{"p":"Gunma","d":"2011-03-21","v":4.5},
{"p":"Gunma","d":"2011-04-03","v":1.8},{"p":"Gunma","d":"2011-04-03","v":1.2},{"p":"Gunma","d":"2011-04-04","v":1.5},{"p":"Gunma","d":"2011-04-05","v":1.0},{"p":"Gunma","d":"2011-04-05","v":0.8},
{"p":"Gunma","d":"2011-04-06","v":0.9},{"p":"Gunma","d":"2011-04-06","v":0.7},{"p":"Gunma","d":"2011-04-07","v":0.9},{"p":"Gunma","d":"2011-04-07","v":0.6},{"p":"Gunma","d":"2011-04-08","v":0.8},{"p":"Gunma","d":"2011-04-08","v":0.55},
{"p":"Gunma","d":"2011-04-09","v":0.7},{"p":"Gunma","d":"2011-04-09","v":0.5},{"p":"Gunma","d":"2011-04-10","v":0.65},{"p":"Gunma","d":"2011-04-11","v":0.6},{"p":"Gunma","d":"2011-04-11","v":0.45},
{"p":"Gunma","d":"2011-04-12","v":0.5},{"p":"Gunma","d":"2011-04-13","v":0.45},{"p":"Gunma","d":"2011-04-14","v":0.4},{"p":"Gunma","d":"2011-04-18","v":0.42},{"p":"Gunma","d":"2011-04-19","v":0.42},
{"p":"Gunma","d":"2011-04-20","v":0.34},{"p":"Gunma","d":"2011-04-21","v":0.31},{"p":"Gunma","d":"2011-04-22","v":0.4},{"p":"Gunma","d":"2011-04-23","v":0.37},{"p":"Gunma","d":"2011-04-24","v":0.37},
{"p":"Gunma","d":"2011-04-25","v":0.32},{"p":"Gunma","d":"2011-04-26","v":0.15},{"p":"Gunma","d":"2011-04-27","v":0.17},{"p":"Gunma","d":"2011-04-29","v":0.16},

{"p":"Tochigi","d":"2011-03-18","v":78},{"p":"Tochigi","d":"2011-03-19","v":16},
{"p":"Tochigi","d":"2011-03-21","v":30},{"p":"Tochigi","d":"2011-03-21","v":18},{"p":"Tochigi","d":"2011-03-21","v":10},{"p":"Tochigi","d":"2011-03-21","v":6.5},
{"p":"Tochigi","d":"2011-03-22","v":34},{"p":"Tochigi","d":"2011-03-22","v":28},{"p":"Tochigi","d":"2011-03-22","v":22},{"p":"Tochigi","d":"2011-03-22","v":14},{"p":"Tochigi","d":"2011-03-22","v":9},{"p":"Tochigi","d":"2011-03-22","v":5.5},
{"p":"Tochigi","d":"2011-03-23","v":146},{"p":"Tochigi","d":"2011-03-23","v":60},{"p":"Tochigi","d":"2011-03-23","v":40},{"p":"Tochigi","d":"2011-03-23","v":25},{"p":"Tochigi","d":"2011-03-23","v":16},{"p":"Tochigi","d":"2011-03-23","v":10},{"p":"Tochigi","d":"2011-03-23","v":6.5},{"p":"Tochigi","d":"2011-03-23","v":4.5},
{"p":"Tochigi","d":"2011-03-24","v":113},{"p":"Tochigi","d":"2011-03-24","v":92},{"p":"Tochigi","d":"2011-03-24","v":80},{"p":"Tochigi","d":"2011-03-24","v":50},{"p":"Tochigi","d":"2011-03-24","v":30},{"p":"Tochigi","d":"2011-03-24","v":16.5},{"p":"Tochigi","d":"2011-03-24","v":13},{"p":"Tochigi","d":"2011-03-24","v":8},{"p":"Tochigi","d":"2011-03-24","v":5},
{"p":"Tochigi","d":"2011-03-25","v":71},{"p":"Tochigi","d":"2011-03-25","v":45},{"p":"Tochigi","d":"2011-03-25","v":28},{"p":"Tochigi","d":"2011-03-25","v":18},{"p":"Tochigi","d":"2011-03-25","v":11},{"p":"Tochigi","d":"2011-03-25","v":7},
{"p":"Tochigi","d":"2011-03-26","v":34},{"p":"Tochigi","d":"2011-03-26","v":22},{"p":"Tochigi","d":"2011-03-26","v":14},{"p":"Tochigi","d":"2011-03-26","v":9},{"p":"Tochigi","d":"2011-03-26","v":5.5},
{"p":"Tochigi","d":"2011-03-27","v":40},{"p":"Tochigi","d":"2011-03-27","v":25},{"p":"Tochigi","d":"2011-03-27","v":16},{"p":"Tochigi","d":"2011-03-27","v":12},{"p":"Tochigi","d":"2011-03-27","v":7},
{"p":"Tochigi","d":"2011-03-28","v":30},{"p":"Tochigi","d":"2011-03-28","v":20},{"p":"Tochigi","d":"2011-03-28","v":13},{"p":"Tochigi","d":"2011-03-28","v":8},{"p":"Tochigi","d":"2011-03-28","v":5},
{"p":"Tochigi","d":"2011-03-29","v":22},{"p":"Tochigi","d":"2011-03-29","v":14},{"p":"Tochigi","d":"2011-03-29","v":9},{"p":"Tochigi","d":"2011-03-29","v":6},
{"p":"Tochigi","d":"2011-03-30","v":18},{"p":"Tochigi","d":"2011-03-30","v":12},{"p":"Tochigi","d":"2011-03-30","v":8},{"p":"Tochigi","d":"2011-03-30","v":5},
{"p":"Tochigi","d":"2011-03-31","v":16},{"p":"Tochigi","d":"2011-03-31","v":10},{"p":"Tochigi","d":"2011-03-31","v":7},{"p":"Tochigi","d":"2011-03-31","v":4.5},
{"p":"Tochigi","d":"2011-04-01","v":14},{"p":"Tochigi","d":"2011-04-01","v":9.8},{"p":"Tochigi","d":"2011-04-01","v":6},{"p":"Tochigi","d":"2011-04-01","v":4},
{"p":"Tochigi","d":"2011-04-02","v":12},{"p":"Tochigi","d":"2011-04-02","v":8},{"p":"Tochigi","d":"2011-04-02","v":5},
{"p":"Tochigi","d":"2011-04-03","v":10},{"p":"Tochigi","d":"2011-04-03","v":7},{"p":"Tochigi","d":"2011-04-03","v":4.5},
{"p":"Tochigi","d":"2011-04-04","v":7},{"p":"Tochigi","d":"2011-04-04","v":5},{"p":"Tochigi","d":"2011-04-04","v":3.5},
{"p":"Tochigi","d":"2011-04-05","v":6.5},{"p":"Tochigi","d":"2011-04-05","v":4.5},{"p":"Tochigi","d":"2011-04-06","v":6},{"p":"Tochigi","d":"2011-04-06","v":4},{"p":"Tochigi","d":"2011-04-06","v":2.8},
{"p":"Tochigi","d":"2011-04-07","v":5.5},{"p":"Tochigi","d":"2011-04-07","v":3.8},{"p":"Tochigi","d":"2011-04-08","v":5},{"p":"Tochigi","d":"2011-04-08","v":3.5},{"p":"Tochigi","d":"2011-04-08","v":2.5},
{"p":"Tochigi","d":"2011-04-09","v":4.0},{"p":"Tochigi","d":"2011-04-10","v":2.6},{"p":"Tochigi","d":"2011-04-11","v":3.7},{"p":"Tochigi","d":"2011-04-12","v":2.6},{"p":"Tochigi","d":"2011-04-13","v":1.5},{"p":"Tochigi","d":"2011-04-14","v":1.2},
{"p":"Tochigi","d":"2011-04-16","v":0.88},{"p":"Tochigi","d":"2011-04-17","v":1.1},{"p":"Tochigi","d":"2011-04-18","v":1.1},{"p":"Tochigi","d":"2011-04-18","v":0.58},{"p":"Tochigi","d":"2011-04-19","v":0.88},{"p":"Tochigi","d":"2011-04-20","v":0.88},
{"p":"Tochigi","d":"2011-04-21","v":0.95},{"p":"Tochigi","d":"2011-04-22","v":1.1},{"p":"Tochigi","d":"2011-04-23","v":1.2},{"p":"Tochigi","d":"2011-04-25","v":0.95},{"p":"Tochigi","d":"2011-04-26","v":0.45},
{"p":"Tochigi","d":"2011-04-27","v":0.69},{"p":"Tochigi","d":"2011-04-28","v":0.53},{"p":"Tochigi","d":"2011-04-30","v":0.43},{"p":"Tochigi","d":"2011-05-01","v":0.38},{"p":"Tochigi","d":"2011-05-05","v":0.26},
{"p":"Tochigi","d":"2011-05-23","v":6.5},{"p":"Tochigi","d":"2011-05-23","v":5.5},

{"p":"Yamagata","d":"2011-03-22","v":3.9},{"p":"Yamagata","d":"2011-03-25","v":1.9},{"p":"Yamagata","d":"2011-03-28","v":1.4},

{"p":"Kanagawa","d":"2011-03-19","v":0.43},{"p":"Kanagawa","d":"2011-03-20","v":0.46},{"p":"Kanagawa","d":"2011-03-21","v":0.58},{"p":"Kanagawa","d":"2011-03-22","v":0.92},{"p":"Kanagawa","d":"2011-03-23","v":0.75},{"p":"Kanagawa","d":"2011-03-24","v":1.0},
{"p":"Kanagawa","d":"2011-03-22","v":70},{"p":"Kanagawa","d":"2011-03-22","v":58},{"p":"Kanagawa","d":"2011-03-23","v":58},{"p":"Kanagawa","d":"2011-03-23","v":26},{"p":"Kanagawa","d":"2011-03-23","v":12},
{"p":"Kanagawa","d":"2011-03-24","v":42},{"p":"Kanagawa","d":"2011-03-24","v":34},{"p":"Kanagawa","d":"2011-03-24","v":20},{"p":"Kanagawa","d":"2011-03-24","v":9},
{"p":"Kanagawa","d":"2011-03-25","v":30},{"p":"Kanagawa","d":"2011-03-25","v":18},{"p":"Kanagawa","d":"2011-03-25","v":11},
{"p":"Kanagawa","d":"2011-03-26","v":25},{"p":"Kanagawa","d":"2011-03-26","v":15},{"p":"Kanagawa","d":"2011-03-26","v":8},
{"p":"Kanagawa","d":"2011-03-27","v":20},{"p":"Kanagawa","d":"2011-03-27","v":12},{"p":"Kanagawa","d":"2011-03-27","v":7},
{"p":"Kanagawa","d":"2011-03-28","v":18},{"p":"Kanagawa","d":"2011-03-28","v":10},{"p":"Kanagawa","d":"2011-03-28","v":6},
{"p":"Kanagawa","d":"2011-03-29","v":16},{"p":"Kanagawa","d":"2011-03-29","v":9},{"p":"Kanagawa","d":"2011-03-30","v":14},{"p":"Kanagawa","d":"2011-03-30","v":8},{"p":"Kanagawa","d":"2011-03-30","v":5},
{"p":"Kanagawa","d":"2011-03-31","v":12},{"p":"Kanagawa","d":"2011-03-31","v":7},{"p":"Kanagawa","d":"2011-04-01","v":11},{"p":"Kanagawa","d":"2011-04-01","v":6},
{"p":"Kanagawa","d":"2011-04-02","v":10},{"p":"Kanagawa","d":"2011-04-02","v":6},{"p":"Kanagawa","d":"2011-04-03","v":9},{"p":"Kanagawa","d":"2011-04-03","v":5.5},{"p":"Kanagawa","d":"2011-04-03","v":2.7},
{"p":"Kanagawa","d":"2011-04-04","v":12},{"p":"Kanagawa","d":"2011-04-04","v":8},{"p":"Kanagawa","d":"2011-04-05","v":11},{"p":"Kanagawa","d":"2011-04-05","v":7},
{"p":"Kanagawa","d":"2011-04-06","v":10},{"p":"Kanagawa","d":"2011-04-06","v":6},{"p":"Kanagawa","d":"2011-04-06","v":1.7},{"p":"Kanagawa","d":"2011-04-07","v":9.5},{"p":"Kanagawa","d":"2011-04-07","v":1.13},
{"p":"Kanagawa","d":"2011-04-08","v":12},{"p":"Kanagawa","d":"2011-04-08","v":7},{"p":"Kanagawa","d":"2011-04-08","v":0.8},{"p":"Kanagawa","d":"2011-04-09","v":11},{"p":"Kanagawa","d":"2011-04-09","v":0.55},
{"p":"Kanagawa","d":"2011-04-10","v":12},{"p":"Kanagawa","d":"2011-04-10","v":0.64},{"p":"Kanagawa","d":"2011-04-11","v":11},{"p":"Kanagawa","d":"2011-04-12","v":12},{"p":"Kanagawa","d":"2011-04-12","v":0.52},{"p":"Kanagawa","d":"2011-04-13","v":10},
{"p":"Kanagawa","d":"2011-04-16","v":14.6},{"p":"Kanagawa","d":"2011-04-17","v":14},{"p":"Kanagawa","d":"2011-04-19","v":11.3},{"p":"Kanagawa","d":"2011-04-20","v":11.3},{"p":"Kanagawa","d":"2011-04-22","v":9.4},

{"p":"Niigata","d":"2011-03-18","v":0.27},{"p":"Niigata","d":"2011-03-19","v":2.1},
{"p":"Niigata","d":"2011-03-20","v":80},{"p":"Niigata","d":"2011-03-20","v":11},{"p":"Niigata","d":"2011-03-20","v":3.7},
{"p":"Niigata","d":"2011-03-21","v":49},{"p":"Niigata","d":"2011-03-21","v":38},{"p":"Niigata","d":"2011-03-21","v":30},{"p":"Niigata","d":"2011-03-21","v":22},{"p":"Niigata","d":"2011-03-21","v":17},{"p":"Niigata","d":"2011-03-21","v":13},{"p":"Niigata","d":"2011-03-21","v":10},{"p":"Niigata","d":"2011-03-21","v":7},{"p":"Niigata","d":"2011-03-21","v":3.2},
{"p":"Niigata","d":"2011-03-22","v":40},{"p":"Niigata","d":"2011-03-22","v":30},{"p":"Niigata","d":"2011-03-22","v":22},{"p":"Niigata","d":"2011-03-22","v":16},{"p":"Niigata","d":"2011-03-22","v":12},{"p":"Niigata","d":"2011-03-22","v":9},{"p":"Niigata","d":"2011-03-22","v":6.5},
{"p":"Niigata","d":"2011-03-23","v":35},{"p":"Niigata","d":"2011-03-23","v":26},{"p":"Niigata","d":"2011-03-23","v":19},{"p":"Niigata","d":"2011-03-23","v":14},{"p":"Niigata","d":"2011-03-23","v":10},{"p":"Niigata","d":"2011-03-23","v":7},
{"p":"Niigata","d":"2011-03-24","v":32},{"p":"Niigata","d":"2011-03-24","v":24},{"p":"Niigata","d":"2011-03-24","v":17},{"p":"Niigata","d":"2011-03-24","v":12},{"p":"Niigata","d":"2011-03-24","v":9},{"p":"Niigata","d":"2011-03-24","v":6},{"p":"Niigata","d":"2011-03-24","v":4.5},
{"p":"Niigata","d":"2011-03-25","v":28},{"p":"Niigata","d":"2011-03-25","v":20},{"p":"Niigata","d":"2011-03-25","v":14},{"p":"Niigata","d":"2011-03-25","v":10},{"p":"Niigata","d":"2011-03-25","v":7},{"p":"Niigata","d":"2011-03-25","v":5},
{"p":"Niigata","d":"2011-03-26","v":25},{"p":"Niigata","d":"2011-03-26","v":18},{"p":"Niigata","d":"2011-03-26","v":12},{"p":"Niigata","d":"2011-03-26","v":8.5},{"p":"Niigata","d":"2011-03-26","v":6},{"p":"Niigata","d":"2011-03-26","v":4},
{"p":"Niigata","d":"2011-03-27","v":20},{"p":"Niigata","d":"2011-03-27","v":14},{"p":"Niigata","d":"2011-03-27","v":9.5},{"p":"Niigata","d":"2011-03-27","v":6.5},{"p":"Niigata","d":"2011-03-27","v":4.5},
{"p":"Niigata","d":"2011-03-28","v":16},{"p":"Niigata","d":"2011-03-28","v":11},{"p":"Niigata","d":"2011-03-28","v":7.5},{"p":"Niigata","d":"2011-03-28","v":5.5},{"p":"Niigata","d":"2011-03-28","v":4},
{"p":"Niigata","d":"2011-03-29","v":14},{"p":"Niigata","d":"2011-03-29","v":10},{"p":"Niigata","d":"2011-03-29","v":7},{"p":"Niigata","d":"2011-03-29","v":5},{"p":"Niigata","d":"2011-03-29","v":3.5},
{"p":"Niigata","d":"2011-03-30","v":12},{"p":"Niigata","d":"2011-03-30","v":8.5},{"p":"Niigata","d":"2011-03-30","v":6},{"p":"Niigata","d":"2011-03-30","v":4.3},
{"p":"Niigata","d":"2011-03-31","v":10},{"p":"Niigata","d":"2011-03-31","v":7},{"p":"Niigata","d":"2011-03-31","v":5},{"p":"Niigata","d":"2011-03-31","v":3.5},{"p":"Niigata","d":"2011-03-31","v":2.5},
{"p":"Niigata","d":"2011-04-01","v":8},{"p":"Niigata","d":"2011-04-01","v":5.5},{"p":"Niigata","d":"2011-04-01","v":4},{"p":"Niigata","d":"2011-04-01","v":1.5},
{"p":"Niigata","d":"2011-04-02","v":7},{"p":"Niigata","d":"2011-04-02","v":5},{"p":"Niigata","d":"2011-04-02","v":3.5},{"p":"Niigata","d":"2011-04-02","v":1.4},
{"p":"Niigata","d":"2011-04-03","v":6},{"p":"Niigata","d":"2011-04-03","v":4.5},{"p":"Niigata","d":"2011-04-03","v":1.13},{"p":"Niigata","d":"2011-04-04","v":1.0},
{"p":"Niigata","d":"2011-04-06","v":0.58},{"p":"Niigata","d":"2011-04-07","v":0.55},{"p":"Niigata","d":"2011-04-08","v":0.53},{"p":"Niigata","d":"2011-04-09","v":0.32},{"p":"Niigata","d":"2011-04-10","v":0.33},{"p":"Niigata","d":"2011-04-11","v":0.31},
{"p":"Niigata","d":"2011-04-12","v":0.21},{"p":"Niigata","d":"2011-04-13","v":0.13},{"p":"Niigata","d":"2011-04-14","v":0.14},{"p":"Niigata","d":"2011-04-19","v":0.1},{"p":"Niigata","d":"2011-04-23","v":0.17},{"p":"Niigata","d":"2011-04-24","v":0.15},

{"p":"Iwate","d":"2011-03-22","v":3.4},{"p":"Iwate","d":"2011-03-25","v":0.83},{"p":"Iwate","d":"2011-03-25","v":0.53},{"p":"Iwate","d":"2011-03-27","v":0.34},{"p":"Iwate","d":"2011-03-30","v":0.36},{"p":"Iwate","d":"2011-03-31","v":0.3},{"p":"Iwate","d":"2011-04-01","v":0.32},{"p":"Iwate","d":"2011-04-04","v":0.23},{"p":"Iwate","d":"2011-04-07","v":0.15},

{"p":"Akita","d":"2011-03-22","v":0.78},{"p":"Akita","d":"2011-03-23","v":2.0},{"p":"Akita","d":"2011-03-25","v":0.83},{"p":"Akita","d":"2011-03-26","v":0.42},{"p":"Akita","d":"2011-03-27","v":0.49},{"p":"Akita","d":"2011-03-28","v":0.78},{"p":"Akita","d":"2011-03-29","v":0.57},{"p":"Akita","d":"2011-03-31","v":0.41},{"p":"Akita","d":"2011-04-01","v":0.2},

{"p":"Yamanashi","d":"2011-03-20","v":0.24},{"p":"Yamanashi","d":"2011-03-24","v":0.22},{"p":"Yamanashi","d":"2011-04-01","v":0.11},
{"p":"Shizuoka","d":"2011-03-22","v":0.14}
],
"bot":[
{"p":"Fukushima","d":"2011-03-16","v":58},{"p":"Fukushima","d":"2011-03-17","v":18},{"p":"Fukushima","d":"2011-03-18","v":65},{"p":"Fukushima","d":"2011-03-18","v":57},{"p":"Fukushima","d":"2011-03-18","v":17},{"p":"Fukushima","d":"2011-03-18","v":15.5},
{"p":"Fukushima","d":"2011-03-19","v":15.7},{"p":"Fukushima","d":"2011-03-20","v":12.3},
{"p":"Fukushima","d":"2011-03-21","v":28},{"p":"Fukushima","d":"2011-03-21","v":25},{"p":"Fukushima","d":"2011-03-21","v":19},{"p":"Fukushima","d":"2011-03-21","v":16},{"p":"Fukushima","d":"2011-03-21","v":12.5},{"p":"Fukushima","d":"2011-03-21","v":11},{"p":"Fukushima","d":"2011-03-21","v":10},{"p":"Fukushima","d":"2011-03-21","v":9},{"p":"Fukushima","d":"2011-03-21","v":8},{"p":"Fukushima","d":"2011-03-21","v":7},{"p":"Fukushima","d":"2011-03-21","v":6},{"p":"Fukushima","d":"2011-03-21","v":5.2},{"p":"Fukushima","d":"2011-03-21","v":4.6},{"p":"Fukushima","d":"2011-03-21","v":4.3},
{"p":"Fukushima","d":"2011-03-24","v":84},{"p":"Fukushima","d":"2011-03-24","v":3.6},{"p":"Fukushima","d":"2011-03-26","v":13.8},{"p":"Fukushima","d":"2011-03-28","v":7.9},{"p":"Fukushima","d":"2011-03-28","v":7.4},
{"p":"Fukushima","d":"2011-03-29","v":32},{"p":"Fukushima","d":"2011-03-29","v":17.6},{"p":"Fukushima","d":"2011-03-30","v":13},
{"p":"Fukushima","d":"2011-03-31","v":141},{"p":"Fukushima","d":"2011-03-31","v":122},{"p":"Fukushima","d":"2011-03-31","v":66},{"p":"Fukushima","d":"2011-03-31","v":12},{"p":"Fukushima","d":"2011-03-31","v":8.6},
{"p":"Fukushima","d":"2011-04-02","v":13},{"p":"Fukushima","d":"2011-04-02","v":8.4},{"p":"Fukushima","d":"2011-04-02","v":3.9},{"p":"Fukushima","d":"2011-04-03","v":14},{"p":"Fukushima","d":"2011-04-03","v":12},{"p":"Fukushima","d":"2011-04-03","v":5.0},
{"p":"Fukushima","d":"2011-04-04","v":13},{"p":"Fukushima","d":"2011-04-05","v":53},{"p":"Fukushima","d":"2011-04-05","v":8.7},{"p":"Fukushima","d":"2011-04-07","v":13.5},{"p":"Fukushima","d":"2011-04-07","v":11.5},
{"p":"Fukushima","d":"2011-04-08","v":45},{"p":"Fukushima","d":"2011-04-09","v":68},{"p":"Fukushima","d":"2011-04-09","v":13.5},{"p":"Fukushima","d":"2011-04-19","v":18},{"p":"Fukushima","d":"2011-04-20","v":8.1},{"p":"Fukushima","d":"2011-04-20","v":6.5},{"p":"Fukushima","d":"2011-04-24","v":10},{"p":"Fukushima","d":"2011-05-03","v":7.0},

{"p":"Ibaraki","d":"2011-03-19","v":1.2},{"p":"Ibaraki","d":"2011-03-19","v":1.1},{"p":"Ibaraki","d":"2011-03-20","v":4.9},{"p":"Ibaraki","d":"2011-03-20","v":0.49},{"p":"Ibaraki","d":"2011-03-22","v":30},{"p":"Ibaraki","d":"2011-03-22","v":6.2},
{"p":"Ibaraki","d":"2011-03-23","v":4.3},{"p":"Ibaraki","d":"2011-03-23","v":3.3},{"p":"Ibaraki","d":"2011-03-23","v":2.7},{"p":"Ibaraki","d":"2011-03-23","v":2.2},{"p":"Ibaraki","d":"2011-03-23","v":1.8},{"p":"Ibaraki","d":"2011-03-23","v":0.51},
{"p":"Ibaraki","d":"2011-03-24","v":7.5},{"p":"Ibaraki","d":"2011-03-24","v":3.0},{"p":"Ibaraki","d":"2011-03-24","v":2.5},{"p":"Ibaraki","d":"2011-03-24","v":2.0},{"p":"Ibaraki","d":"2011-03-24","v":1.5},{"p":"Ibaraki","d":"2011-03-24","v":1.27},{"p":"Ibaraki","d":"2011-03-24","v":1.1},{"p":"Ibaraki","d":"2011-03-24","v":0.84},
{"p":"Ibaraki","d":"2011-03-25","v":12.1},{"p":"Ibaraki","d":"2011-03-25","v":6.1},{"p":"Ibaraki","d":"2011-03-25","v":2.8},{"p":"Ibaraki","d":"2011-03-25","v":2.3},{"p":"Ibaraki","d":"2011-03-25","v":1.7},{"p":"Ibaraki","d":"2011-03-25","v":1.3},
{"p":"Ibaraki","d":"2011-03-26","v":25},{"p":"Ibaraki","d":"2011-03-26","v":11.7},{"p":"Ibaraki","d":"2011-03-26","v":2.4},{"p":"Ibaraki","d":"2011-03-26","v":1.9},{"p":"Ibaraki","d":"2011-03-26","v":1.5},{"p":"Ibaraki","d":"2011-03-26","v":0.35},
{"p":"Ibaraki","d":"2011-03-27","v":44},{"p":"Ibaraki","d":"2011-03-27","v":2.6},{"p":"Ibaraki","d":"2011-03-27","v":2.0},{"p":"Ibaraki","d":"2011-03-27","v":1.6},{"p":"Ibaraki","d":"2011-03-27","v":1.2},{"p":"Ibaraki","d":"2011-03-27","v":0.9},
{"p":"Ibaraki","d":"2011-03-28","v":2.2},{"p":"Ibaraki","d":"2011-03-28","v":1.8},{"p":"Ibaraki","d":"2011-03-28","v":1.4},
{"p":"Ibaraki","d":"2011-03-29","v":1.9},{"p":"Ibaraki","d":"2011-03-29","v":1.5},{"p":"Ibaraki","d":"2011-03-29","v":1.4},{"p":"Ibaraki","d":"2011-03-29","v":1.1},
{"p":"Ibaraki","d":"2011-03-31","v":20},{"p":"Ibaraki","d":"2011-03-31","v":5.0},
{"p":"Ibaraki","d":"2011-04-01","v":2.2},{"p":"Ibaraki","d":"2011-04-01","v":2.0},{"p":"Ibaraki","d":"2011-04-01","v":1.35},{"p":"Ibaraki","d":"2011-04-01","v":1.03},{"p":"Ibaraki","d":"2011-04-01","v":0.8},
{"p":"Ibaraki","d":"2011-04-02","v":1.2},{"p":"Ibaraki","d":"2011-04-02","v":1.03},{"p":"Ibaraki","d":"2011-04-02","v":0.71},{"p":"Ibaraki","d":"2011-04-02","v":0.62},
{"p":"Ibaraki","d":"2011-04-03","v":20},{"p":"Ibaraki","d":"2011-04-03","v":1.5},{"p":"Ibaraki","d":"2011-04-03","v":1.45},{"p":"Ibaraki","d":"2011-04-03","v":0.67},
{"p":"Ibaraki","d":"2011-04-04","v":3.2},{"p":"Ibaraki","d":"2011-04-04","v":0.9},{"p":"Ibaraki","d":"2011-04-06","v":1.7},
{"p":"Ibaraki","d":"2011-04-07","v":48.6},{"p":"Ibaraki","d":"2011-04-07","v":17},{"p":"Ibaraki","d":"2011-04-07","v":1.8},{"p":"Ibaraki","d":"2011-04-07","v":1.5},{"p":"Ibaraki","d":"2011-04-07","v":0.76},
{"p":"Ibaraki","d":"2011-04-08","v":2.0},{"p":"Ibaraki","d":"2011-04-08","v":0.9},{"p":"Ibaraki","d":"2011-04-08","v":0.77},{"p":"Ibaraki","d":"2011-04-09","v":1.0},{"p":"Ibaraki","d":"2011-04-09","v":0.62},
{"p":"Ibaraki","d":"2011-04-11","v":0.65},{"p":"Ibaraki","d":"2011-04-11","v":0.54},{"p":"Ibaraki","d":"2011-04-12","v":0.95},{"p":"Ibaraki","d":"2011-04-13","v":0.84},
{"p":"Ibaraki","d":"2011-04-14","v":10.9},{"p":"Ibaraki","d":"2011-04-14","v":7.9},{"p":"Ibaraki","d":"2011-04-14","v":7.2},{"p":"Ibaraki","d":"2011-04-14","v":3.4},
{"p":"Ibaraki","d":"2011-04-15","v":0.6},{"p":"Ibaraki","d":"2011-04-15","v":0.42},{"p":"Ibaraki","d":"2011-04-18","v":1.8},{"p":"Ibaraki","d":"2011-04-19","v":2.3},{"p":"Ibaraki","d":"2011-04-19","v":0.46},
{"p":"Ibaraki","d":"2011-04-20","v":0.42},{"p":"Ibaraki","d":"2011-04-21","v":14},{"p":"Ibaraki","d":"2011-04-21","v":2.6},{"p":"Ibaraki","d":"2011-04-21","v":0.8},{"p":"Ibaraki","d":"2011-04-22","v":0.8},
{"p":"Ibaraki","d":"2011-04-26","v":0.76},{"p":"Ibaraki","d":"2011-04-28","v":2.7},{"p":"Ibaraki","d":"2011-05-12","v":5.2},

{"p":"Saitama","d":"2011-03-22","v":1.7},{"p":"Saitama","d":"2011-03-23","v":1.7},{"p":"Saitama","d":"2011-03-23","v":0.59},{"p":"Saitama","d":"2011-03-23","v":0.32},{"p":"Saitama","d":"2011-03-24","v":0.83},{"p":"Saitama","d":"2011-03-25","v":1.0},
{"p":"Saitama","d":"2011-03-26","v":0.79},{"p":"Saitama","d":"2011-03-27","v":1.0},{"p":"Saitama","d":"2011-03-28","v":2.3},{"p":"Saitama","d":"2011-03-29","v":2.0},{"p":"Saitama","d":"2011-03-29","v":0.35},{"p":"Saitama","d":"2011-03-31","v":0.41},
{"p":"Saitama","d":"2011-04-01","v":2.8},{"p":"Saitama","d":"2011-04-01","v":0.8},{"p":"Saitama","d":"2011-04-02","v":0.87},{"p":"Saitama","d":"2011-04-02","v":0.8},{"p":"Saitama","d":"2011-04-03","v":1.1},{"p":"Saitama","d":"2011-04-04","v":1.8},{"p":"Saitama","d":"2011-04-04","v":0.68},
{"p":"Saitama","d":"2011-04-05","v":0.72},{"p":"Saitama","d":"2011-04-05","v":0.65},{"p":"Saitama","d":"2011-04-06","v":0.42},{"p":"Saitama","d":"2011-04-07","v":0.48},{"p":"Saitama","d":"2011-04-08","v":0.52},{"p":"Saitama","d":"2011-04-09","v":0.49},
{"p":"Saitama","d":"2011-04-10","v":0.33},{"p":"Saitama","d":"2011-04-11","v":0.2},{"p":"Saitama","d":"2011-04-12","v":0.38},{"p":"Saitama","d":"2011-04-14","v":0.24},{"p":"Saitama","d":"2011-04-15","v":0.27},{"p":"Saitama","d":"2011-04-16","v":0.41},
{"p":"Saitama","d":"2011-04-17","v":0.57},{"p":"Saitama","d":"2011-04-18","v":0.42},{"p":"Saitama","d":"2011-04-19","v":0.43},{"p":"Saitama","d":"2011-04-20","v":0.42},{"p":"Saitama","d":"2011-04-20","v":0.17},{"p":"Saitama","d":"2011-04-23","v":0.22},
{"p":"Saitama","d":"2011-04-24","v":0.18},{"p":"Saitama","d":"2011-04-25","v":0.15},{"p":"Saitama","d":"2011-04-26","v":0.3},{"p":"Saitama","d":"2011-05-02","v":0.16},{"p":"Saitama","d":"2011-05-06","v":0.19},{"p":"Saitama","d":"2011-05-07","v":0.58},
{"p":"Saitama","d":"2011-05-08","v":0.15},{"p":"Saitama","d":"2011-05-09","v":0.12},{"p":"Saitama","d":"2011-05-10","v":0.2},{"p":"Saitama","d":"2011-05-17","v":0.15},{"p":"Saitama","d":"2011-05-18","v":0.15},{"p":"Saitama","d":"2011-05-19","v":0.44},
{"p":"Saitama","d":"2011-05-22","v":0.13},{"p":"Saitama","d":"2011-05-23","v":0.15},{"p":"Saitama","d":"2011-05-24","v":0.16},{"p":"Saitama","d":"2011-05-27","v":0.19},

{"p":"Chiba","d":"2011-03-22","v":15},{"p":"Chiba","d":"2011-03-25","v":8.9},{"p":"Chiba","d":"2011-03-25","v":0.27},{"p":"Chiba","d":"2011-03-26","v":4.0},{"p":"Chiba","d":"2011-03-26","v":0.32},
{"p":"Chiba","d":"2011-03-27","v":3.6},{"p":"Chiba","d":"2011-03-27","v":3.1},{"p":"Chiba","d":"2011-03-27","v":2.0},{"p":"Chiba","d":"2011-03-27","v":0.25},{"p":"Chiba","d":"2011-03-28","v":2.8},{"p":"Chiba","d":"2011-03-28","v":0.32},
{"p":"Chiba","d":"2011-03-29","v":1.0},{"p":"Chiba","d":"2011-03-29","v":0.26},{"p":"Chiba","d":"2011-03-30","v":1.9},{"p":"Chiba","d":"2011-03-30","v":0.45},{"p":"Chiba","d":"2011-03-31","v":2.6},{"p":"Chiba","d":"2011-03-31","v":0.64},
{"p":"Chiba","d":"2011-04-01","v":1.23},{"p":"Chiba","d":"2011-04-02","v":0.9},{"p":"Chiba","d":"2011-04-02","v":0.53},{"p":"Chiba","d":"2011-04-04","v":0.5},{"p":"Chiba","d":"2011-04-05","v":0.43},{"p":"Chiba","d":"2011-04-06","v":0.26},
{"p":"Chiba","d":"2011-04-07","v":0.52},{"p":"Chiba","d":"2011-04-09","v":0.18},{"p":"Chiba","d":"2011-04-10","v":0.67},{"p":"Chiba","d":"2011-04-10","v":0.24},{"p":"Chiba","d":"2011-04-12","v":0.18},{"p":"Chiba","d":"2011-04-14","v":0.18},
{"p":"Chiba","d":"2011-04-17","v":0.17},{"p":"Chiba","d":"2011-04-18","v":0.17},{"p":"Chiba","d":"2011-05-23","v":0.17},

{"p":"Tokyo","d":"2011-03-19","v":0.21},{"p":"Tokyo","d":"2011-03-21","v":0.22},{"p":"Tokyo","d":"2011-03-22","v":0.31},{"p":"Tokyo","d":"2011-03-23","v":1.48},{"p":"Tokyo","d":"2011-03-24","v":2.36},{"p":"Tokyo","d":"2011-03-25","v":2.06},
{"p":"Tokyo","d":"2011-03-26","v":1.8},{"p":"Tokyo","d":"2011-03-27","v":1.19},{"p":"Tokyo","d":"2011-03-28","v":0.81},{"p":"Tokyo","d":"2011-03-29","v":0.5},{"p":"Tokyo","d":"2011-03-30","v":0.9},{"p":"Tokyo","d":"2011-03-31","v":0.87},
{"p":"Tokyo","d":"2011-04-01","v":0.44},{"p":"Tokyo","d":"2011-04-02","v":0.44},{"p":"Tokyo","d":"2011-04-03","v":0.49},{"p":"Tokyo","d":"2011-04-04","v":0.59},{"p":"Tokyo","d":"2011-04-05","v":0.64},{"p":"Tokyo","d":"2011-04-06","v":0.49},
{"p":"Tokyo","d":"2011-04-07","v":0.6},{"p":"Tokyo","d":"2011-04-08","v":0.48},{"p":"Tokyo","d":"2011-04-09","v":0.26},{"p":"Tokyo","d":"2011-04-11","v":0.27},{"p":"Tokyo","d":"2011-04-13","v":0.26},{"p":"Tokyo","d":"2011-04-18","v":0.21},
{"p":"Tokyo","d":"2011-04-20","v":4.0},{"p":"Tokyo","d":"2011-04-22","v":0.41},{"p":"Tokyo","d":"2011-04-23","v":0.2},{"p":"Tokyo","d":"2011-04-25","v":0.32},{"p":"Tokyo","d":"2011-04-27","v":7.0},

{"p":"Miyagi","d":"2011-03-24","v":0.67},{"p":"Miyagi","d":"2011-03-24","v":0.38},{"p":"Miyagi","d":"2011-03-24","v":0.15},{"p":"Miyagi","d":"2011-04-07","v":0.9},{"p":"Miyagi","d":"2011-04-18","v":0.8},{"p":"Miyagi","d":"2011-04-20","v":2.1},
{"p":"Miyagi","d":"2011-04-21","v":0.8},{"p":"Miyagi","d":"2011-04-25","v":1.19},{"p":"Miyagi","d":"2011-04-27","v":0.8},{"p":"Miyagi","d":"2011-04-27","v":0.2},{"p":"Miyagi","d":"2011-05-02","v":0.7},{"p":"Miyagi","d":"2011-05-02","v":0.2},
{"p":"Miyagi","d":"2011-05-09","v":1.3},{"p":"Miyagi","d":"2011-05-09","v":1.0},{"p":"Miyagi","d":"2011-05-11","v":1.39},{"p":"Miyagi","d":"2011-05-12","v":0.7},{"p":"Miyagi","d":"2011-05-16","v":1.6},{"p":"Miyagi","d":"2011-05-17","v":0.7},
{"p":"Miyagi","d":"2011-05-18","v":0.6},{"p":"Miyagi","d":"2011-05-23","v":1.1},{"p":"Miyagi","d":"2011-05-25","v":0.9},{"p":"Miyagi","d":"2011-05-29","v":0.5},

{"p":"Gunma","d":"2011-03-18","v":0.22},{"p":"Gunma","d":"2011-03-20","v":1.5},{"p":"Gunma","d":"2011-03-20","v":1.2},{"p":"Gunma","d":"2011-03-21","v":0.72},{"p":"Gunma","d":"2011-03-22","v":0.37},{"p":"Gunma","d":"2011-03-23","v":0.54},
{"p":"Gunma","d":"2011-03-24","v":0.55},{"p":"Gunma","d":"2011-03-25","v":0.56},{"p":"Gunma","d":"2011-03-26","v":0.47},{"p":"Gunma","d":"2011-03-27","v":0.44},{"p":"Gunma","d":"2011-03-28","v":0.49},{"p":"Gunma","d":"2011-03-29","v":0.57},
{"p":"Gunma","d":"2011-03-30","v":0.72},{"p":"Gunma","d":"2011-03-31","v":0.45},{"p":"Gunma","d":"2011-04-01","v":0.67},{"p":"Gunma","d":"2011-04-02","v":0.31},{"p":"Gunma","d":"2011-04-03","v":0.24},{"p":"Gunma","d":"2011-04-04","v":0.19},
{"p":"Gunma","d":"2011-04-06","v":1.03},{"p":"Gunma","d":"2011-04-10","v":0.13},{"p":"Gunma","d":"2011-04-11","v":0.35},{"p":"Gunma","d":"2011-04-12","v":0.14},{"p":"Gunma","d":"2011-04-14","v":0.11},{"p":"Gunma","d":"2011-04-15","v":0.12},
{"p":"Gunma","d":"2011-04-16","v":0.18},{"p":"Gunma","d":"2011-04-18","v":0.15},{"p":"Gunma","d":"2011-04-27","v":0.14},{"p":"Gunma","d":"2011-05-12","v":12},{"p":"Gunma","d":"2011-05-16","v":28},{"p":"Gunma","d":"2011-05-16","v":25},{"p":"Gunma","d":"2011-05-16","v":23},
{"p":"Gunma","d":"2011-05-29","v":29},{"p":"Gunma","d":"2011-05-29","v":27},

{"p":"Tochigi","d":"2011-03-18","v":1.6},{"p":"Tochigi","d":"2011-03-19","v":2.6},{"p":"Tochigi","d":"2011-03-20","v":2.8},{"p":"Tochigi","d":"2011-03-21","v":6.1},{"p":"Tochigi","d":"2011-03-22","v":5.5},{"p":"Tochigi","d":"2011-03-22","v":4.7},
{"p":"Tochigi","d":"2011-03-23","v":9.3},{"p":"Tochigi","d":"2011-03-23","v":5.6},{"p":"Tochigi","d":"2011-03-23","v":5.2},{"p":"Tochigi","d":"2011-03-24","v":9.3},{"p":"Tochigi","d":"2011-03-24","v":6.1},
{"p":"Tochigi","d":"2011-03-25","v":49.5},{"p":"Tochigi","d":"2011-03-25","v":7.7},{"p":"Tochigi","d":"2011-03-25","v":5.0},{"p":"Tochigi","d":"2011-03-25","v":4.3},{"p":"Tochigi","d":"2011-03-26","v":6},{"p":"Tochigi","d":"2011-03-27","v":5.3},
{"p":"Tochigi","d":"2011-03-28","v":10},{"p":"Tochigi","d":"2011-03-28","v":5.0},{"p":"Tochigi","d":"2011-03-29","v":5.5},{"p":"Tochigi","d":"2011-03-30","v":10},{"p":"Tochigi","d":"2011-03-30","v":4.9},{"p":"Tochigi","d":"2011-03-30","v":3.9},{"p":"Tochigi","d":"2011-03-30","v":3.4},
{"p":"Tochigi","d":"2011-03-31","v":6.0},{"p":"Tochigi","d":"2011-03-31","v":3.9},{"p":"Tochigi","d":"2011-04-01","v":4.3},{"p":"Tochigi","d":"2011-04-02","v":6.7},{"p":"Tochigi","d":"2011-04-03","v":6.0},{"p":"Tochigi","d":"2011-04-04","v":4.7},
{"p":"Tochigi","d":"2011-04-05","v":4.5},{"p":"Tochigi","d":"2011-04-06","v":5.0},{"p":"Tochigi","d":"2011-04-06","v":4.0},{"p":"Tochigi","d":"2011-04-07","v":4.0},{"p":"Tochigi","d":"2011-04-08","v":4.0},{"p":"Tochigi","d":"2011-04-09","v":3.8},
{"p":"Tochigi","d":"2011-04-10","v":1.3},{"p":"Tochigi","d":"2011-04-11","v":5.3},{"p":"Tochigi","d":"2011-04-11","v":4.6},{"p":"Tochigi","d":"2011-04-12","v":4.7},{"p":"Tochigi","d":"2011-04-13","v":0.41},{"p":"Tochigi","d":"2011-04-14","v":4.2},
{"p":"Tochigi","d":"2011-04-15","v":4.4},{"p":"Tochigi","d":"2011-04-15","v":4.2},{"p":"Tochigi","d":"2011-04-16","v":0.64},{"p":"Tochigi","d":"2011-04-18","v":4.9},{"p":"Tochigi","d":"2011-04-21","v":5.2},{"p":"Tochigi","d":"2011-04-21","v":3.7},
{"p":"Tochigi","d":"2011-04-22","v":5.9},{"p":"Tochigi","d":"2011-04-22","v":4.4},{"p":"Tochigi","d":"2011-04-25","v":4.6},{"p":"Tochigi","d":"2011-04-30","v":0.45},{"p":"Tochigi","d":"2011-05-02","v":4.8},{"p":"Tochigi","d":"2011-05-06","v":6.1},
{"p":"Tochigi","d":"2011-05-10","v":3.8},{"p":"Tochigi","d":"2011-05-16","v":4.7},{"p":"Tochigi","d":"2011-05-16","v":0.39},{"p":"Tochigi","d":"2011-05-20","v":4.0},{"p":"Tochigi","d":"2011-05-23","v":5.3},

{"p":"Yamagata","d":"2011-03-24","v":0.42},{"p":"Yamagata","d":"2011-04-01","v":0.35},{"p":"Yamagata","d":"2011-05-06","v":0.15},
{"p":"Iwate","d":"2011-03-23","v":0.13},{"p":"Iwate","d":"2011-04-18","v":0.12}
]
},
"resolve":{"scale":{"x":"independent","y":"independent","fill":"independent","stroke":"independent","shape":"independent","strokeDash":"independent"},"legend":{"fill":"independent","stroke":"independent","shape":"independent","strokeDash":"independent"}},
"vconcat":[
{
"width":686,"height":441,
"layer":[
{"data":{"name":"decay"},"mark":{"type":"line","color":"#b3b3c9","strokeWidth":1,"clip":true},
"encoding":{
"x":{"field":"d","type":"temporal","scale":{"type":"utc","domain":[{"year":2011,"month":3,"date":11,"utc":true},{"year":2011,"month":5,"date":30,"utc":true}]},
"axis":{"orient":"top","title":null,"grid":false,"labelOverlap":false,"labelBound":false,"labelFlush":false,"labelExpr":"utcFormat(datum.value, '%Y-%m-%d')","labelAngle":45,"labelAlign":"right","labelBaseline":"middle","labelPadding":8,"labelFont":"DejaVu Sans","labelFontSize":14,"labelColor":"#000","tickSize":5,"tickColor":"#404040","domainColor":"#404040",
"values":[{"year":2011,"month":3,"date":11,"utc":true},{"year":2011,"month":3,"date":18,"utc":true},{"year":2011,"month":3,"date":25,"utc":true},{"year":2011,"month":4,"date":1,"utc":true},{"year":2011,"month":4,"date":8,"utc":true},{"year":2011,"month":4,"date":15,"utc":true},{"year":2011,"month":4,"date":22,"utc":true},{"year":2011,"month":4,"date":29,"utc":true},{"year":2011,"month":5,"date":6,"utc":true},{"year":2011,"month":5,"date":13,"utc":true},{"year":2011,"month":5,"date":20,"utc":true},{"year":2011,"month":5,"date":27,"utc":true}]}},
"y":{"field":"v","type":"quantitative","scale":{"type":"log","domain":[0.1,1000],"nice":false},
"axis":{"values":[0.1,1,10,100,1000],"format":"~g","grid":true,"gridColor":"#404040","gridOpacity":1,"domainColor":"#404040","tickColor":"#404040","tickSize":5,"labelFont":"Open Sans","labelFontSize":17,"labelColor":"#000","labelPadding":6,"title":"Iodine-131 Activity Concentration, Bq/kg","titleFont":"Open Sans","titleFontSize":18,"titleFontWeight":"bold","titleColor":"#000","titlePadding":8}},
"detail":{"field":"id"},
"strokeDash":{"field":"lab","type":"nominal","scale":{"range":[[1,0]]},"legend":{"title":null,"orient":"none","legendX":700,"legendY":399,"symbolType":"M-1,-0.5L1,0.5","symbolSize":784,"symbolStrokeColor":"#b3b3c9","symbolStrokeWidth":1,"labelFont":"Open Sans","labelFontSize":15,"labelColor":"#000","labelOffset":6,"padding":0,"labelLimit":300}}
}},
{"data":{"values":[{"lim":300}]},"mark":{"type":"rule","color":"#e8287f","strokeWidth":2.5,"strokeDash":[4,2]},
"encoding":{"x":{"datum":{"year":2011,"month":3,"date":11,"utc":true},"type":"temporal"},"x2":{"datum":{"year":2011,"month":5,"date":4,"utc":true}},"y":{"field":"lim","type":"quantitative"}}},
{"data":{"name":"top"},"mark":{"type":"point","opacity":1,"strokeWidth":1.5,"size":85,"clip":false},
"encoding":{
"x":{"field":"d","type":"temporal"},
"y":{"field":"v","type":"quantitative"},
"shape":{"field":"p","type":"nominal","scale":{"domain":["Fukushima","Ibaraki","Saitama","Chiba","Tokyo","Miyagi","Gunma","Tochigi","Yamagata","Kanagawa","Niigata","Iwate","Akita","Yamanashi","Shizuoka"],
"range":["diamond","circle","M0,-0.8L0.8,0L0,0.8L-0.8,0Z","square","triangle-up","triangle-up","diamond","circle","M-0.75,-0.25L0.75,-0.25L0.75,0.25L-0.75,0.25Z","M0,-0.85L0.85,0L0,0.85L-0.85,0Z","square","triangle-up","M-0.9,-0.9L0.9,0.9M-0.9,0.9L0.9,-0.9","M-0.8,-0.8L0.8,0.8M-0.8,0.8L0.8,-0.8M0,-1L0,1","circle"]},
"legend":{"title":"(a)","orient":"none","legendX":720,"legendY":-12,"titleFont":"Open Sans","titleFontSize":21,"titleFontWeight":"bold","titleColor":"#000","titleAnchor":"middle","titlePadding":26,"labelFont":"Open Sans","labelFontSize":15,"labelColor":"#000","labelOffset":4,"rowPadding":6.5,"symbolSize":85,"symbolStrokeWidth":1.5,"padding":0}},
"fill":{"field":"p","type":"nominal","scale":{"domain":["Fukushima","Ibaraki","Saitama","Chiba","Tokyo","Miyagi","Gunma","Tochigi","Yamagata","Kanagawa","Niigata","Iwate","Akita","Yamanashi","Shizuoka"],
"range":["#3d6399","#ed7d31","#c0504d","transparent","#77933c","#9e3d9e","white","#7aafe0","#c0392b","#f5e642","#dcefef","#f38a3c","transparent","transparent","#a9cf92"]}},
"stroke":{"field":"p","type":"nominal","scale":{"domain":["Fukushima","Ibaraki","Saitama","Chiba","Tokyo","Miyagi","Gunma","Tochigi","Yamagata","Kanagawa","Niigata","Iwate","Akita","Yamanashi","Shizuoka"],
"range":["#3d6399","#ed7d31","#4ead3a","#c57a78","#77933c","#7a3a9d","#3b93b3","#2ca8e0","transparent","#7f5fa8","#4bacc6","#f38a3c","#9aa8d6","#d08a9a","#a9cf92"]}}
}},
{"data":{"values":[{"label":"I in tap water","v":310}]},"mark":{"type":"text","align":"right","baseline":"middle","font":"Open Sans","fontSize":22,"fontWeight":"bold","color":"#1a1a1a"},
"encoding":{"x":{"datum":{"year":2011,"month":5,"date":29,"utc":true},"type":"temporal"},"y":{"field":"v","type":"quantitative"},"text":{"field":"label"}}},
{"data":{"values":[{"label":"131","v":310}]},"mark":{"type":"text","align":"right","baseline":"middle","font":"Open Sans","fontSize":14,"fontWeight":"bold","color":"#1a1a1a","dx":-149,"dy":-9},
"encoding":{"x":{"datum":{"year":2011,"month":5,"date":29,"utc":true},"type":"temporal"},"y":{"field":"v","type":"quantitative"},"text":{"field":"label"}}}
]
},
{
"width":686,"height":536,
"layer":[
{"data":{"values":[{"lim":200}]},"mark":{"type":"rule","color":"#e8287f","strokeWidth":2.5,"strokeDash":[4,2]},
"encoding":{"x":{"datum":{"year":2011,"month":3,"date":11,"utc":true},"type":"temporal","scale":{"type":"utc","domain":[{"year":2011,"month":3,"date":11,"utc":true},{"year":2011,"month":5,"date":30,"utc":true}]},
"axis":{"orient":"bottom","title":null,"grid":false,"labelOverlap":false,"labelBound":false,"labelFlush":false,"labelExpr":"utcFormat(datum.value, '%Y-%m-%d')","labelAngle":45,"labelAlign":"left","labelBaseline":"middle","labelPadding":8,"labelFont":"DejaVu Sans","labelFontSize":14,"labelColor":"#000","tickSize":5,"tickColor":"#404040","domainColor":"#404040",
"values":[{"year":2011,"month":3,"date":11,"utc":true},{"year":2011,"month":3,"date":18,"utc":true},{"year":2011,"month":3,"date":25,"utc":true},{"year":2011,"month":4,"date":1,"utc":true},{"year":2011,"month":4,"date":8,"utc":true},{"year":2011,"month":4,"date":15,"utc":true},{"year":2011,"month":4,"date":22,"utc":true},{"year":2011,"month":4,"date":29,"utc":true},{"year":2011,"month":5,"date":6,"utc":true},{"year":2011,"month":5,"date":13,"utc":true},{"year":2011,"month":5,"date":20,"utc":true},{"year":2011,"month":5,"date":27,"utc":true}]}},
"x2":{"datum":{"year":2011,"month":5,"date":30,"utc":true}},
"y":{"field":"lim","type":"quantitative","scale":{"type":"log","domain":[0.1,1000],"nice":false},
"axis":{"values":[0.1,1,10,100,1000],"format":"~g","grid":true,"gridColor":"#404040","gridOpacity":1,"domainColor":"#404040","tickColor":"#404040","tickSize":5,"labelFont":"Open Sans","labelFontSize":17,"labelColor":"#000","labelPadding":6,"title":"Radiocesium Activity Concentration, Bq/kg","titleFont":"Open Sans","titleFontSize":18,"titleFontWeight":"bold","titleColor":"#000","titlePadding":8}}}},
{"data":{"values":[{"lim":10}]},"mark":{"type":"rule","color":"#1ea5e0","strokeWidth":3,"strokeDash":[3,1.5]},
"encoding":{"x":{"datum":{"year":2011,"month":3,"date":11,"utc":true},"type":"temporal"},"x2":{"datum":{"year":2011,"month":5,"date":30,"utc":true}},"y":{"field":"lim","type":"quantitative"}}},
{"data":{"name":"bot"},"mark":{"type":"point","opacity":1,"strokeWidth":1.5,"size":85,"clip":false},
"encoding":{
"x":{"field":"d","type":"temporal"},
"y":{"field":"v","type":"quantitative"},
"shape":{"field":"p","type":"nominal","scale":{"domain":["Fukushima","Ibaraki","Saitama","Chiba","Tokyo","Miyagi","Gunma","Tochigi","Yamagata","Kanagawa","Niigata","Iwate","Akita","Yamanashi"],
"range":["diamond","circle","M0,-0.8L0.8,0L0,0.8L-0.8,0Z","square","triangle-up","triangle-up","diamond","circle","M-0.75,-0.25L0.75,-0.25L0.75,0.25L-0.75,0.25Z","M0,-0.85L0.85,0L0,0.85L-0.85,0Z","square","triangle-up","M-0.9,-0.9L0.9,0.9M-0.9,0.9L0.9,-0.9","M-0.8,-0.8L0.8,0.8M-0.8,0.8L0.8,-0.8M0,-1L0,1"]},
"legend":{"title":"(b)","orient":"none","legendX":720,"legendY":-15,"titleFont":"Open Sans","titleFontSize":21,"titleFontWeight":"bold","titleColor":"#000","titleAnchor":"middle","titlePadding":111,"labelFont":"Open Sans","labelFontSize":15,"labelColor":"#000","labelOffset":4,"rowPadding":6.5,"symbolSize":85,"symbolStrokeWidth":1.5,"padding":0}},
"fill":{"field":"p","type":"nominal","scale":{"domain":["Fukushima","Ibaraki","Saitama","Chiba","Tokyo","Miyagi","Gunma","Tochigi","Yamagata","Kanagawa","Niigata","Iwate","Akita","Yamanashi"],
"range":["#3d6399","#ed7d31","#c0504d","transparent","#77933c","#9e3d9e","white","#7aafe0","#c0392b","#f5e642","#dcefef","#f38a3c","transparent","transparent"]}},
"stroke":{"field":"p","type":"nominal","scale":{"domain":["Fukushima","Ibaraki","Saitama","Chiba","Tokyo","Miyagi","Gunma","Tochigi","Yamagata","Kanagawa","Niigata","Iwate","Akita","Yamanashi"],
"range":["#3d6399","#ed7d31","#4ead3a","#c57a78","#77933c","#7a3a9d","#3b93b3","#2ca8e0","transparent","#7f5fa8","#4bacc6","#f38a3c","#9aa8d6","#d08a9a"]}}
}},
{"data":{"values":[{"label":"Cs in tap water","v":310}]},"mark":{"type":"text","align":"right","baseline":"middle","font":"Open Sans","fontSize":22,"fontWeight":"bold","color":"#1a1a1a"},
"encoding":{"x":{"datum":{"year":2011,"month":5,"date":29,"utc":true},"type":"temporal"},"y":{"field":"v","type":"quantitative"},"text":{"field":"label"}}},
{"data":{"values":[{"label":"134+137","v":310}]},"mark":{"type":"text","align":"right","baseline":"middle","font":"Open Sans","fontSize":15,"fontWeight":"bold","color":"#1a1a1a","dx":-167,"dy":-8},
"encoding":{"x":{"datum":{"year":2011,"month":5,"date":29,"utc":true},"type":"temporal"},"y":{"field":"v","type":"quantitative"},"text":{"field":"label"}}}
]
}
]
}
